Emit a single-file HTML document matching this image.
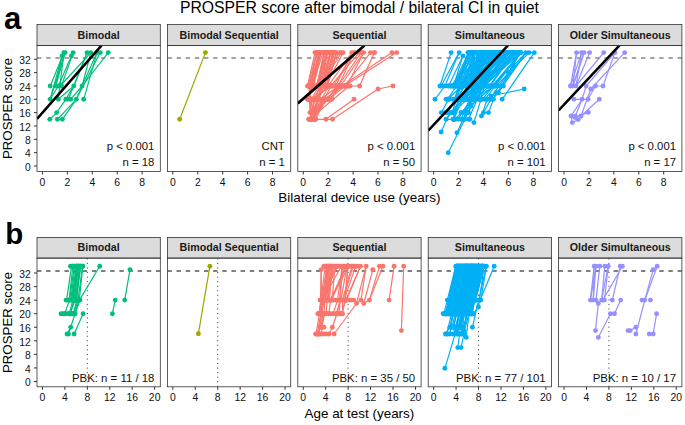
<!DOCTYPE html>
<html><head><meta charset="utf-8"><title>PROSPER score</title>
<style>html,body{margin:0;padding:0;background:#fff}svg{display:block}</style></head>
<body>
<svg width="685" height="425" viewBox="0 0 685 425" font-family='"Liberation Sans", Arial, sans-serif'>
<rect width="685" height="425" fill="#fff"/>
<defs>
<clipPath id="ct0"><rect x="37.00" y="45.4" width="123.3" height="126.10"/></clipPath>
<clipPath id="ct1"><rect x="167.40" y="45.4" width="123.3" height="126.10"/></clipPath>
<clipPath id="ct2"><rect x="297.80" y="45.4" width="123.3" height="126.10"/></clipPath>
<clipPath id="ct3"><rect x="428.20" y="45.4" width="123.3" height="126.10"/></clipPath>
<clipPath id="ct4"><rect x="558.60" y="45.4" width="123.3" height="126.10"/></clipPath>
<clipPath id="cb0"><rect x="37.00" y="258.1" width="123.3" height="128.70"/></clipPath>
<clipPath id="cb1"><rect x="167.40" y="258.1" width="123.3" height="128.70"/></clipPath>
<clipPath id="cb2"><rect x="297.80" y="258.1" width="123.3" height="128.70"/></clipPath>
<clipPath id="cb3"><rect x="428.20" y="258.1" width="123.3" height="128.70"/></clipPath>
<clipPath id="cb4"><rect x="558.60" y="258.1" width="123.3" height="128.70"/></clipPath>
</defs>
<text x="359.4" y="13.4" font-size="15.75" text-anchor="middle" fill="#000">PROSPER score after bimodal / bilateral CI in quiet</text>
<text x="4.0" y="28.6" font-size="31" font-weight="bold" fill="#000">a</text>
<text x="5.3" y="244.4" font-size="29.5" font-weight="bold" fill="#000">b</text>
<rect x="37.00" y="24.5" width="123.3" height="20.90" fill="#dcdcdc" stroke="#333" stroke-width="0.8"/>
<text x="98.65" y="38.55" font-size="10.7" font-weight="bold" text-anchor="middle" fill="#1a1a1a">Bimodal</text>
<g clip-path="url(#ct0)">
<line x1="37.00" x2="160.30" y1="58.00" y2="58.00" stroke="#868686" stroke-width="1.7" stroke-dasharray="4.4 4.75"/>
<g fill="none" stroke="#00BF7D" stroke-width="1.2" stroke-linejoin="round"><polyline points="50.2,99.3 62.0,55.9"/><polyline points="50.2,86.0 63.9,52.6"/><polyline points="55.8,86.0 65.1,52.6"/><polyline points="58.3,99.3 63.9,52.6"/><polyline points="50.2,99.3 65.1,52.6"/><polyline points="58.3,86.0 71.4,55.9"/><polyline points="61.4,86.0 73.2,52.6"/><polyline points="55.8,86.0 62.0,55.9"/><polyline points="61.1,85.0 90.8,52.6"/><polyline points="49.8,119.3 56.7,112.6 65.8,99.3 73.8,86.0 87.1,52.6"/><polyline points="57.4,119.3 76.3,99.3 82.1,86.0 90.8,52.6"/><polyline points="62.4,119.3 76.3,99.3"/><polyline points="68.2,99.3 73.8,86.0 87.1,52.6"/><polyline points="70.7,99.3 82.1,86.0 97.0,52.6"/><polyline points="83.7,99.3 97.0,52.6"/><polyline points="76.3,99.3 100.3,52.6"/><polyline points="82.1,86.0 108.2,52.6"/><polyline points="58.3,99.3 73.8,86.0"/><polyline points="50.2,99.3 58.3,86.0"/><polyline points="65.8,99.3 70.7,99.3"/></g>
<g fill="#00BF7D"><circle cx="49.8" cy="119.3" r="2.45"/><circle cx="50.2" cy="86.0" r="2.45"/><circle cx="50.2" cy="99.3" r="2.45"/><circle cx="55.8" cy="86.0" r="2.45"/><circle cx="56.7" cy="112.6" r="2.45"/><circle cx="57.4" cy="119.3" r="2.45"/><circle cx="58.3" cy="86.0" r="2.45"/><circle cx="58.3" cy="99.3" r="2.45"/><circle cx="61.1" cy="85.0" r="2.45"/><circle cx="61.4" cy="86.0" r="2.45"/><circle cx="62.0" cy="55.9" r="2.45"/><circle cx="62.4" cy="119.3" r="2.45"/><circle cx="63.9" cy="52.6" r="2.45"/><circle cx="65.1" cy="52.6" r="2.45"/><circle cx="65.8" cy="99.3" r="2.45"/><circle cx="68.2" cy="99.3" r="2.45"/><circle cx="70.7" cy="99.3" r="2.45"/><circle cx="71.4" cy="55.9" r="2.45"/><circle cx="73.2" cy="52.6" r="2.45"/><circle cx="73.8" cy="86.0" r="2.45"/><circle cx="76.3" cy="99.3" r="2.45"/><circle cx="82.1" cy="86.0" r="2.45"/><circle cx="83.7" cy="99.3" r="2.45"/><circle cx="87.1" cy="52.6" r="2.45"/><circle cx="90.8" cy="52.6" r="2.45"/><circle cx="97.0" cy="52.6" r="2.45"/><circle cx="100.3" cy="52.6" r="2.45"/><circle cx="108.2" cy="52.6" r="2.45"/></g>
<line x1="37.0" y1="118.9" x2="101.6" y2="45.4" stroke="#000" stroke-width="2.6"/>
</g>
<text x="154.40" y="150" font-size="11.35" text-anchor="end" fill="#111">p &lt; 0.001</text>
<text x="154.40" y="165.7" font-size="11.35" text-anchor="end" fill="#111">n = 18</text>
<rect x="37.00" y="45.4" width="123.3" height="126.10" fill="none" stroke="#333" stroke-width="0.8"/>
<line x1="42.45" x2="42.45" y1="171.5" y2="174.5" stroke="#333" stroke-width="1"/>
<text x="42.45" y="185.60" font-size="10.4" text-anchor="middle" fill="#111">0</text>
<line x1="67.37" x2="67.37" y1="171.5" y2="174.5" stroke="#333" stroke-width="1"/>
<text x="67.37" y="185.60" font-size="10.4" text-anchor="middle" fill="#111">2</text>
<line x1="92.29" x2="92.29" y1="171.5" y2="174.5" stroke="#333" stroke-width="1"/>
<text x="92.29" y="185.60" font-size="10.4" text-anchor="middle" fill="#111">4</text>
<line x1="117.21" x2="117.21" y1="171.5" y2="174.5" stroke="#333" stroke-width="1"/>
<text x="117.21" y="185.60" font-size="10.4" text-anchor="middle" fill="#111">6</text>
<line x1="142.13" x2="142.13" y1="171.5" y2="174.5" stroke="#333" stroke-width="1"/>
<text x="142.13" y="185.60" font-size="10.4" text-anchor="middle" fill="#111">8</text>
<rect x="167.40" y="24.5" width="123.3" height="20.90" fill="#dcdcdc" stroke="#333" stroke-width="0.8"/>
<text x="229.05" y="38.55" font-size="10.7" font-weight="bold" text-anchor="middle" fill="#1a1a1a">Bimodal Sequential</text>
<g clip-path="url(#ct1)">
<line x1="167.40" x2="290.70" y1="58.00" y2="58.00" stroke="#868686" stroke-width="1.7" stroke-dasharray="4.4 4.75"/>
<g fill="none" stroke="#A3A500" stroke-width="1.2" stroke-linejoin="round"><polyline points="179.7,119.3 205.4,52.6"/></g>
<g fill="#A3A500"><circle cx="179.7" cy="119.3" r="2.45"/><circle cx="205.4" cy="52.6" r="2.45"/></g>
</g>
<text x="284.80" y="150" font-size="11.35" text-anchor="end" fill="#111">CNT</text>
<text x="284.80" y="165.7" font-size="11.35" text-anchor="end" fill="#111">n = 1</text>
<rect x="167.40" y="45.4" width="123.3" height="126.10" fill="none" stroke="#333" stroke-width="0.8"/>
<line x1="172.85" x2="172.85" y1="171.5" y2="174.5" stroke="#333" stroke-width="1"/>
<text x="172.85" y="185.60" font-size="10.4" text-anchor="middle" fill="#111">0</text>
<line x1="197.77" x2="197.77" y1="171.5" y2="174.5" stroke="#333" stroke-width="1"/>
<text x="197.77" y="185.60" font-size="10.4" text-anchor="middle" fill="#111">2</text>
<line x1="222.69" x2="222.69" y1="171.5" y2="174.5" stroke="#333" stroke-width="1"/>
<text x="222.69" y="185.60" font-size="10.4" text-anchor="middle" fill="#111">4</text>
<line x1="247.61" x2="247.61" y1="171.5" y2="174.5" stroke="#333" stroke-width="1"/>
<text x="247.61" y="185.60" font-size="10.4" text-anchor="middle" fill="#111">6</text>
<line x1="272.53" x2="272.53" y1="171.5" y2="174.5" stroke="#333" stroke-width="1"/>
<text x="272.53" y="185.60" font-size="10.4" text-anchor="middle" fill="#111">8</text>
<rect x="297.80" y="24.5" width="123.3" height="20.90" fill="#dcdcdc" stroke="#333" stroke-width="0.8"/>
<text x="359.45" y="38.55" font-size="10.7" font-weight="bold" text-anchor="middle" fill="#1a1a1a">Sequential</text>
<g clip-path="url(#ct2)">
<line x1="297.80" x2="421.10" y1="58.00" y2="58.00" stroke="#868686" stroke-width="1.7" stroke-dasharray="4.4 4.75"/>
<g fill="none" stroke="#F8766D" stroke-width="1.2" stroke-linejoin="round"><polyline points="316.6,86.0 325.7,52.6"/><polyline points="326.0,86.0 334.5,52.6"/><polyline points="317.7,86.0 326.9,52.6"/><polyline points="311.2,86.0 320.0,52.6"/><polyline points="320.1,86.0 330.7,52.6"/><polyline points="309.4,86.0 316.9,52.6"/><polyline points="309.3,86.0 320.0,52.6"/><polyline points="321.4,86.0 327.3,52.6"/><polyline points="327.2,86.0 336.4,52.6"/><polyline points="320.6,86.0 330.0,52.6"/><polyline points="310.6,86.0 316.3,52.6"/><polyline points="318.1,86.0 324.1,52.6"/><polyline points="311.3,86.0 318.4,52.6"/><polyline points="308.1,86.0 316.6,52.6"/><polyline points="316.3,86.0 327.2,52.6"/><polyline points="317.9,86.0 327.5,52.6"/><polyline points="317.5,86.0 327.2,52.6"/><polyline points="316.7,86.0 324.0,52.6"/><polyline points="327.5,86.0 336.4,52.6"/><polyline points="324.3,86.0 334.4,52.6"/><polyline points="313.8,86.0 320.8,52.6"/><polyline points="313.3,86.0 319.3,52.6"/><polyline points="322.9,86.0 331.0,52.6"/><polyline points="324.5,86.0 332.5,52.6"/><polyline points="326.7,86.0 336.4,52.6"/><polyline points="307.5,86.0 315.0,52.6"/><polyline points="317.2,99.3 330.7,52.6"/><polyline points="318.0,99.3 330.9,52.6"/><polyline points="308.3,99.3 322.9,52.6"/><polyline points="315.8,99.3 327.8,52.6"/><polyline points="308.4,99.3 320.9,52.6"/><polyline points="317.8,99.3 333.5,52.6"/><polyline points="308.8,99.3 320.6,52.6"/><polyline points="308.6,99.3 319.0,52.6"/><polyline points="315.7,86.0 339.4,52.6"/><polyline points="320.7,86.0 341.3,52.6"/><polyline points="325.7,86.0 343.1,52.6"/><polyline points="328.2,86.0 351.8,52.6"/><polyline points="333.2,86.0 354.3,52.6"/><polyline points="330.7,86.0 359.3,52.6"/><polyline points="338.1,86.0 361.2,52.6"/><polyline points="340.6,86.0 363.7,52.6"/><polyline points="344.4,86.0 370.5,52.6"/><polyline points="359.6,86.0 374.3,52.6"/><polyline points="341.9,86.0 392.0,52.6"/><polyline points="344.4,86.0 396.7,52.6"/><polyline points="335.6,86.0 351.8,52.6"/><polyline points="346.9,86.0 363.7,52.6"/><polyline points="331.9,99.3 354.3,52.6"/><polyline points="314.3,119.3 313.2,99.3"/><polyline points="312.6,119.3 318.7,99.3"/><polyline points="310.1,119.3 324.6,99.3"/><polyline points="309.6,119.3 322.8,99.3"/><polyline points="309.5,119.3 318.2,99.3"/><polyline points="310.2,119.3 315.1,99.3"/><polyline points="315.5,119.3 326.1,99.3"/><polyline points="310.9,119.3 327.8,99.3"/><polyline points="310.2,119.3 317.6,99.3"/><polyline points="314.7,119.3 322.8,99.3"/><polyline points="309.4,119.3 349.1,86.0"/><polyline points="310.2,119.3 329.0,86.0"/><polyline points="314.1,119.3 331.0,86.0"/><polyline points="310.8,119.3 324.0,86.0"/><polyline points="309.4,119.3 337.9,86.0"/><polyline points="310.4,119.3 338.4,86.0"/><polyline points="315.9,99.3 327.7,86.0"/><polyline points="329.2,99.3 341.5,86.0"/><polyline points="320.5,99.3 338.5,86.0"/><polyline points="311.6,99.3 318.9,86.0"/><polyline points="328.1,99.3 345.3,86.0"/><polyline points="313.1,99.3 321.0,86.0"/><polyline points="324.3,99.3 343.3,86.0"/><polyline points="311.9,99.3 331.1,86.0"/><polyline points="313.9,116.0 311.0,99.3"/><polyline points="310.0,112.6 309.4,86.0"/><polyline points="310.8,112.6 309.9,99.3"/><polyline points="314.1,116.0 308.5,86.0"/><polyline points="312.3,116.0 309.8,99.3"/><polyline points="315.0,52.6 317.1,52.6 319.2,52.6 321.4,52.6 323.5,52.6 325.7,52.6 327.8,52.6 330.0,52.6 332.1,52.6 334.3,52.6 336.4,52.6"/><polyline points="339.4,52.6 341.3,52.6 343.1,52.6"/><polyline points="351.8,52.6 354.6,52.6"/><polyline points="359.3,52.6 361.5,52.6 363.7,52.6"/><polyline points="370.5,52.6 374.5,52.6"/><polyline points="307.5,86.0 310.0,86.0 312.5,86.0 315.0,86.0 317.5,86.0 320.0,86.0 322.5,86.0 325.0,86.0 327.5,86.0 330.0,86.0 332.6,86.0 335.1,86.0 337.6,86.0 340.1,86.0 342.6,86.0 345.1,86.0 347.6,86.0 350.1,86.0"/><polyline points="307.5,99.3 310.0,99.3 312.5,99.3 315.0,99.3 317.6,99.3 320.1,99.3 322.6,99.3 325.1,99.3 327.6,99.3 330.2,99.3"/><polyline points="308.7,119.3 311.1,119.3 313.4,119.3 315.7,119.3"/><polyline points="350.1,86.0 359.6,86.0"/><polyline points="332.5,119.3 378.0,89.0 393.0,86.0"/><polyline points="325.9,119.3 354.0,99.3"/><polyline points="315.7,119.3 325.9,119.3 332.5,119.3"/></g>
<g fill="#F8766D"><circle cx="307.5" cy="86.0" r="2.45"/><circle cx="307.5" cy="99.3" r="2.45"/><circle cx="308.1" cy="86.0" r="2.45"/><circle cx="308.3" cy="99.3" r="2.45"/><circle cx="308.4" cy="99.3" r="2.45"/><circle cx="308.5" cy="86.0" r="2.45"/><circle cx="308.6" cy="99.3" r="2.45"/><circle cx="308.7" cy="119.3" r="2.45"/><circle cx="308.8" cy="99.3" r="2.45"/><circle cx="309.3" cy="86.0" r="2.45"/><circle cx="309.4" cy="86.0" r="2.45"/><circle cx="309.4" cy="119.3" r="2.45"/><circle cx="309.5" cy="119.3" r="2.45"/><circle cx="309.6" cy="119.3" r="2.45"/><circle cx="309.8" cy="99.3" r="2.45"/><circle cx="309.9" cy="99.3" r="2.45"/><circle cx="310.0" cy="86.0" r="2.45"/><circle cx="310.0" cy="99.3" r="2.45"/><circle cx="310.0" cy="112.6" r="2.45"/><circle cx="310.1" cy="119.3" r="2.45"/><circle cx="310.2" cy="119.3" r="2.45"/><circle cx="310.4" cy="119.3" r="2.45"/><circle cx="310.6" cy="86.0" r="2.45"/><circle cx="310.8" cy="112.6" r="2.45"/><circle cx="310.8" cy="119.3" r="2.45"/><circle cx="310.9" cy="119.3" r="2.45"/><circle cx="311.0" cy="99.3" r="2.45"/><circle cx="311.1" cy="119.3" r="2.45"/><circle cx="311.2" cy="86.0" r="2.45"/><circle cx="311.3" cy="86.0" r="2.45"/><circle cx="311.6" cy="99.3" r="2.45"/><circle cx="311.9" cy="99.3" r="2.45"/><circle cx="312.3" cy="116.0" r="2.45"/><circle cx="312.5" cy="86.0" r="2.45"/><circle cx="312.5" cy="99.3" r="2.45"/><circle cx="312.6" cy="119.3" r="2.45"/><circle cx="313.1" cy="99.3" r="2.45"/><circle cx="313.2" cy="99.3" r="2.45"/><circle cx="313.3" cy="86.0" r="2.45"/><circle cx="313.4" cy="119.3" r="2.45"/><circle cx="313.8" cy="86.0" r="2.45"/><circle cx="313.9" cy="116.0" r="2.45"/><circle cx="314.1" cy="116.0" r="2.45"/><circle cx="314.1" cy="119.3" r="2.45"/><circle cx="314.3" cy="119.3" r="2.45"/><circle cx="314.7" cy="119.3" r="2.45"/><circle cx="315.0" cy="52.6" r="2.45"/><circle cx="315.0" cy="86.0" r="2.45"/><circle cx="315.0" cy="99.3" r="2.45"/><circle cx="315.1" cy="99.3" r="2.45"/><circle cx="315.5" cy="119.3" r="2.45"/><circle cx="315.7" cy="86.0" r="2.45"/><circle cx="315.7" cy="119.3" r="2.45"/><circle cx="315.8" cy="99.3" r="2.45"/><circle cx="315.9" cy="99.3" r="2.45"/><circle cx="316.3" cy="52.6" r="2.45"/><circle cx="316.3" cy="86.0" r="2.45"/><circle cx="316.6" cy="52.6" r="2.45"/><circle cx="316.6" cy="86.0" r="2.45"/><circle cx="316.7" cy="86.0" r="2.45"/><circle cx="316.9" cy="52.6" r="2.45"/><circle cx="317.1" cy="52.6" r="2.45"/><circle cx="317.2" cy="99.3" r="2.45"/><circle cx="317.5" cy="86.0" r="2.45"/><circle cx="317.6" cy="99.3" r="2.45"/><circle cx="317.7" cy="86.0" r="2.45"/><circle cx="317.8" cy="99.3" r="2.45"/><circle cx="317.9" cy="86.0" r="2.45"/><circle cx="318.0" cy="99.3" r="2.45"/><circle cx="318.1" cy="86.0" r="2.45"/><circle cx="318.2" cy="99.3" r="2.45"/><circle cx="318.4" cy="52.6" r="2.45"/><circle cx="318.7" cy="99.3" r="2.45"/><circle cx="318.9" cy="86.0" r="2.45"/><circle cx="319.0" cy="52.6" r="2.45"/><circle cx="319.2" cy="52.6" r="2.45"/><circle cx="319.3" cy="52.6" r="2.45"/><circle cx="320.0" cy="52.6" r="2.45"/><circle cx="320.0" cy="86.0" r="2.45"/><circle cx="320.1" cy="86.0" r="2.45"/><circle cx="320.1" cy="99.3" r="2.45"/><circle cx="320.5" cy="99.3" r="2.45"/><circle cx="320.6" cy="52.6" r="2.45"/><circle cx="320.6" cy="86.0" r="2.45"/><circle cx="320.7" cy="86.0" r="2.45"/><circle cx="320.8" cy="52.6" r="2.45"/><circle cx="320.9" cy="52.6" r="2.45"/><circle cx="321.0" cy="86.0" r="2.45"/><circle cx="321.4" cy="52.6" r="2.45"/><circle cx="321.4" cy="86.0" r="2.45"/><circle cx="322.5" cy="86.0" r="2.45"/><circle cx="322.6" cy="99.3" r="2.45"/><circle cx="322.8" cy="99.3" r="2.45"/><circle cx="322.9" cy="52.6" r="2.45"/><circle cx="322.9" cy="86.0" r="2.45"/><circle cx="323.5" cy="52.6" r="2.45"/><circle cx="324.0" cy="52.6" r="2.45"/><circle cx="324.0" cy="86.0" r="2.45"/><circle cx="324.1" cy="52.6" r="2.45"/><circle cx="324.3" cy="86.0" r="2.45"/><circle cx="324.3" cy="99.3" r="2.45"/><circle cx="324.5" cy="86.0" r="2.45"/><circle cx="324.6" cy="99.3" r="2.45"/><circle cx="325.0" cy="86.0" r="2.45"/><circle cx="325.1" cy="99.3" r="2.45"/><circle cx="325.7" cy="52.6" r="2.45"/><circle cx="325.7" cy="86.0" r="2.45"/><circle cx="325.9" cy="119.3" r="2.45"/><circle cx="326.0" cy="86.0" r="2.45"/><circle cx="326.1" cy="99.3" r="2.45"/><circle cx="326.7" cy="86.0" r="2.45"/><circle cx="326.9" cy="52.6" r="2.45"/><circle cx="327.2" cy="52.6" r="2.45"/><circle cx="327.2" cy="86.0" r="2.45"/><circle cx="327.3" cy="52.6" r="2.45"/><circle cx="327.5" cy="52.6" r="2.45"/><circle cx="327.5" cy="86.0" r="2.45"/><circle cx="327.6" cy="99.3" r="2.45"/><circle cx="327.7" cy="86.0" r="2.45"/><circle cx="327.8" cy="52.6" r="2.45"/><circle cx="327.8" cy="99.3" r="2.45"/><circle cx="328.1" cy="99.3" r="2.45"/><circle cx="328.2" cy="86.0" r="2.45"/><circle cx="329.0" cy="86.0" r="2.45"/><circle cx="329.2" cy="99.3" r="2.45"/><circle cx="330.0" cy="52.6" r="2.45"/><circle cx="330.0" cy="86.0" r="2.45"/><circle cx="330.2" cy="99.3" r="2.45"/><circle cx="330.7" cy="52.6" r="2.45"/><circle cx="330.7" cy="86.0" r="2.45"/><circle cx="330.9" cy="52.6" r="2.45"/><circle cx="331.0" cy="52.6" r="2.45"/><circle cx="331.0" cy="86.0" r="2.45"/><circle cx="331.1" cy="86.0" r="2.45"/><circle cx="331.9" cy="99.3" r="2.45"/><circle cx="332.1" cy="52.6" r="2.45"/><circle cx="332.5" cy="52.6" r="2.45"/><circle cx="332.5" cy="119.3" r="2.45"/><circle cx="332.6" cy="86.0" r="2.45"/><circle cx="333.2" cy="86.0" r="2.45"/><circle cx="333.5" cy="52.6" r="2.45"/><circle cx="334.3" cy="52.6" r="2.45"/><circle cx="334.4" cy="52.6" r="2.45"/><circle cx="334.5" cy="52.6" r="2.45"/><circle cx="335.1" cy="86.0" r="2.45"/><circle cx="335.6" cy="86.0" r="2.45"/><circle cx="336.4" cy="52.6" r="2.45"/><circle cx="337.6" cy="86.0" r="2.45"/><circle cx="337.9" cy="86.0" r="2.45"/><circle cx="338.1" cy="86.0" r="2.45"/><circle cx="338.4" cy="86.0" r="2.45"/><circle cx="338.5" cy="86.0" r="2.45"/><circle cx="339.4" cy="52.6" r="2.45"/><circle cx="340.1" cy="86.0" r="2.45"/><circle cx="340.6" cy="86.0" r="2.45"/><circle cx="341.3" cy="52.6" r="2.45"/><circle cx="341.5" cy="86.0" r="2.45"/><circle cx="341.9" cy="86.0" r="2.45"/><circle cx="342.6" cy="86.0" r="2.45"/><circle cx="343.1" cy="52.6" r="2.45"/><circle cx="343.3" cy="86.0" r="2.45"/><circle cx="344.4" cy="86.0" r="2.45"/><circle cx="345.1" cy="86.0" r="2.45"/><circle cx="345.3" cy="86.0" r="2.45"/><circle cx="346.9" cy="86.0" r="2.45"/><circle cx="347.6" cy="86.0" r="2.45"/><circle cx="349.1" cy="86.0" r="2.45"/><circle cx="350.1" cy="86.0" r="2.45"/><circle cx="351.8" cy="52.6" r="2.45"/><circle cx="354.0" cy="99.3" r="2.45"/><circle cx="354.3" cy="52.6" r="2.45"/><circle cx="354.6" cy="52.6" r="2.45"/><circle cx="359.3" cy="52.6" r="2.45"/><circle cx="359.6" cy="86.0" r="2.45"/><circle cx="361.2" cy="52.6" r="2.45"/><circle cx="361.5" cy="52.6" r="2.45"/><circle cx="363.7" cy="52.6" r="2.45"/><circle cx="370.5" cy="52.6" r="2.45"/><circle cx="374.3" cy="52.6" r="2.45"/><circle cx="374.5" cy="52.6" r="2.45"/><circle cx="378.0" cy="89.0" r="2.45"/><circle cx="392.0" cy="52.6" r="2.45"/><circle cx="393.0" cy="86.0" r="2.45"/><circle cx="396.7" cy="52.6" r="2.45"/></g>
<line x1="297.8" y1="103.4" x2="364.5" y2="45.4" stroke="#000" stroke-width="2.6"/>
</g>
<text x="415.20" y="150" font-size="11.35" text-anchor="end" fill="#111">p &lt; 0.001</text>
<text x="415.20" y="165.7" font-size="11.35" text-anchor="end" fill="#111">n = 50</text>
<rect x="297.80" y="45.4" width="123.3" height="126.10" fill="none" stroke="#333" stroke-width="0.8"/>
<line x1="303.25" x2="303.25" y1="171.5" y2="174.5" stroke="#333" stroke-width="1"/>
<text x="303.25" y="185.60" font-size="10.4" text-anchor="middle" fill="#111">0</text>
<line x1="328.17" x2="328.17" y1="171.5" y2="174.5" stroke="#333" stroke-width="1"/>
<text x="328.17" y="185.60" font-size="10.4" text-anchor="middle" fill="#111">2</text>
<line x1="353.09" x2="353.09" y1="171.5" y2="174.5" stroke="#333" stroke-width="1"/>
<text x="353.09" y="185.60" font-size="10.4" text-anchor="middle" fill="#111">4</text>
<line x1="378.01" x2="378.01" y1="171.5" y2="174.5" stroke="#333" stroke-width="1"/>
<text x="378.01" y="185.60" font-size="10.4" text-anchor="middle" fill="#111">6</text>
<line x1="402.93" x2="402.93" y1="171.5" y2="174.5" stroke="#333" stroke-width="1"/>
<text x="402.93" y="185.60" font-size="10.4" text-anchor="middle" fill="#111">8</text>
<rect x="428.20" y="24.5" width="123.3" height="20.90" fill="#dcdcdc" stroke="#333" stroke-width="0.8"/>
<text x="489.85" y="38.55" font-size="10.7" font-weight="bold" text-anchor="middle" fill="#1a1a1a">Simultaneous</text>
<g clip-path="url(#ct3)">
<line x1="428.20" x2="551.50" y1="58.00" y2="58.00" stroke="#868686" stroke-width="1.7" stroke-dasharray="4.4 4.75"/>
<g fill="none" stroke="#00B0F6" stroke-width="1.2" stroke-linejoin="round"><polyline points="471.3,99.3 517.5,52.6"/><polyline points="480.2,99.3 484.6,86.0 490.3,52.6"/><polyline points="478.8,99.3 481.3,86.0 492.9,52.6"/><polyline points="465.7,99.3 467.5,86.0 475.1,52.6"/><polyline points="464.2,119.3 487.4,52.6"/><polyline points="469.5,86.0 480.0,52.6"/><polyline points="481.7,86.0 494.9,52.6"/><polyline points="492.2,86.0 520.9,52.6"/><polyline points="489.3,86.0 513.6,52.6"/><polyline points="456.2,99.3 479.8,86.0 509.3,52.6"/><polyline points="451.9,112.6 456.7,99.3 485.0,52.6"/><polyline points="478.4,86.0 504.4,52.6"/><polyline points="470.1,99.3 472.4,86.0 481.9,52.6"/><polyline points="455.7,99.3 461.3,86.0 486.6,52.6"/><polyline points="468.6,119.3 482.8,86.0 505.1,52.6"/><polyline points="447.3,99.3 456.6,86.0 468.5,52.6"/><polyline points="475.3,86.0 512.8,52.6"/><polyline points="454.3,119.3 462.3,86.0 490.6,52.6"/><polyline points="473.6,99.3 494.2,86.0 520.9,52.6"/><polyline points="460.4,86.0 487.2,52.6"/><polyline points="454.2,119.3 493.9,86.0 520.9,52.6"/><polyline points="477.5,86.0 504.8,52.6"/><polyline points="458.8,99.3 490.4,52.6"/><polyline points="468.9,86.0 506.2,52.6"/><polyline points="474.6,86.0 492.4,52.6"/><polyline points="470.8,86.0 481.9,52.6"/><polyline points="461.2,119.3 469.6,99.3 520.9,52.6"/><polyline points="482.3,99.3 520.7,52.6"/><polyline points="463.3,86.0 474.5,52.6"/><polyline points="451.8,112.6 490.5,52.6"/><polyline points="468.0,112.6 483.8,86.0 506.6,52.6"/><polyline points="462.3,86.0 473.5,52.6"/><polyline points="493.4,86.0 520.9,52.6"/><polyline points="463.6,99.3 468.2,86.0 488.3,52.6"/><polyline points="465.4,112.6 498.5,52.6"/><polyline points="461.3,112.6 512.7,52.6"/><polyline points="473.0,86.0 488.7,52.6"/><polyline points="472.4,99.3 490.4,86.0 513.7,52.6"/><polyline points="465.9,99.3 467.6,86.0 475.2,52.6"/><polyline points="462.6,99.3 480.7,86.0 509.8,52.6"/><polyline points="470.5,86.0 501.6,52.6"/><polyline points="453.2,112.6 515.4,52.6"/><polyline points="485.0,99.3 495.1,86.0 520.9,52.6"/><polyline points="479.5,86.0 517.3,52.6"/><polyline points="469.5,99.3 512.1,52.6"/><polyline points="476.5,86.0 502.3,52.6"/><polyline points="461.6,99.3 499.7,52.6"/><polyline points="470.5,99.3 473.0,86.0 480.6,52.6"/><polyline points="456.6,99.3 460.8,86.0 497.7,52.6"/><polyline points="456.8,99.3 459.2,86.0 468.5,52.6"/><polyline points="455.4,86.0 468.5,52.6"/><polyline points="460.5,99.3 467.1,86.0 498.1,52.6"/><polyline points="446.1,119.3 474.5,86.0 485.9,52.6"/><polyline points="465.0,99.3 475.7,86.0 519.1,52.6"/><polyline points="465.8,86.0 504.0,52.6"/><polyline points="460.8,86.0 471.3,52.6"/><polyline points="467.5,86.0 491.9,52.6"/><polyline points="454.8,99.3 459.1,86.0 481.6,52.6"/><polyline points="450.5,86.0 484.4,52.6"/><polyline points="460.6,99.3 484.7,52.6"/><polyline points="459.2,99.3 471.5,86.0 509.2,52.6"/><polyline points="457.8,119.3 502.5,52.6"/><polyline points="480.6,86.0 492.2,52.6"/><polyline points="471.3,99.3 473.4,86.0 494.2,52.6"/><polyline points="453.4,119.3 462.7,99.3 520.9,52.6"/><polyline points="462.1,99.3 484.7,52.6"/><polyline points="445.2,112.6 470.6,86.0 488.6,52.6"/><polyline points="458.1,86.0 469.5,52.6"/><polyline points="453.1,119.3 458.2,99.3 506.4,52.6"/><polyline points="458.6,86.0 488.6,52.6"/><polyline points="470.9,99.3 474.3,86.0 480.9,52.6"/><polyline points="448.0,112.6 454.6,99.3 468.5,52.6"/><polyline points="447.9,99.3 461.5,86.0 493.3,52.6"/><polyline points="467.5,99.3 498.9,52.6"/><polyline points="462.0,86.0 496.8,52.6"/><polyline points="459.1,86.0 493.2,52.6"/><polyline points="479.5,86.0 509.1,52.6"/><polyline points="458.7,86.0 491.2,52.6"/><polyline points="473.8,86.0 488.0,52.6"/><polyline points="463.0,86.0 482.3,52.6"/><polyline points="463.5,86.0 480.1,52.6"/><polyline points="454.9,86.0 474.7,52.6"/><polyline points="471.3,86.0 484.6,52.6"/><polyline points="456.8,86.0 479.5,52.6"/><polyline points="470.8,86.0 491.6,52.6"/><polyline points="451.7,86.0 473.2,52.6"/><polyline points="475.5,86.0 500.4,52.6"/><polyline points="468.6,86.0 481.6,52.6"/><polyline points="472.1,86.0 487.3,52.6"/><polyline points="467.2,86.0 491.5,52.6"/><polyline points="468.8,86.0 483.0,52.6"/><polyline points="458.4,86.0 482.3,52.6"/><polyline points="454.8,86.0 474.9,52.6"/><polyline points="461.4,86.0 475.9,52.6"/><polyline points="466.6,86.0 479.6,52.6"/><polyline points="453.8,86.0 471.0,52.6"/><polyline points="452.9,86.0 468.5,52.6"/><polyline points="465.4,86.0 487.1,52.6"/><polyline points="473.0,86.0 487.1,52.6"/><polyline points="461.9,86.0 478.2,52.6"/><polyline points="467.9,52.6 470.0,52.6 472.2,52.6 474.3,52.6 476.4,52.6 478.5,52.6 480.6,52.6 482.7,52.6 484.9,52.6 487.0,52.6 489.1,52.6 491.2,52.6 493.3,52.6 495.5,52.6 497.6,52.6 499.7,52.6 501.8,52.6 503.9,52.6 506.0,52.6 508.2,52.6 510.3,52.6 512.4,52.6 514.5,52.6 516.6,52.6 518.8,52.6 520.9,52.6"/><polyline points="444.9,86.0 448.0,86.0 451.1,86.0 454.2,86.0 457.3,86.0 460.4,86.0 463.6,86.0 466.7,86.0 469.8,86.0 472.9,86.0 476.0,86.0 479.1,86.0 482.2,86.0 485.4,86.0 488.5,86.0 491.6,86.0 494.7,86.0 497.8,86.0 500.9,86.0"/><polyline points="446.1,99.3 449.7,99.3 453.3,99.3 456.9,99.3 460.5,99.3 464.1,99.3 467.7,99.3 471.3,99.3 474.9,99.3 478.5,99.3"/><polyline points="439.9,86.0 451.1,52.6"/><polyline points="441.1,86.0 459.2,52.6"/><polyline points="444.9,86.0 459.2,52.6"/><polyline points="448.6,86.0 462.9,55.9"/><polyline points="453.6,86.0 462.9,55.9"/><polyline points="435.0,99.3 444.9,86.0"/><polyline points="441.3,112.6 448.6,99.3"/><polyline points="441.1,132.0 449.8,112.6"/><polyline points="457.0,132.7 466.0,112.6 471.0,99.3"/><polyline points="448.2,152.7 464.8,119.3 471.0,106.0 476.0,86.0"/><polyline points="473.9,122.6 481.0,99.3"/><polyline points="481.4,116.0 487.2,99.3"/><polyline points="488.5,112.6 483.5,112.6 491.0,99.3"/><polyline points="488.5,112.6 496.0,92.6 503.4,86.0"/><polyline points="502.2,99.3 534.3,52.6"/><polyline points="501.4,86.0 520.2,52.6"/><polyline points="501.4,86.0 525.9,52.6"/><polyline points="496.0,86.0 529.1,52.6"/><polyline points="498.4,92.6 525.9,52.6"/><polyline points="491.0,96.0 524.2,89.0"/><polyline points="489.7,99.3 508.4,72.6 520.2,52.6"/><polyline points="493.5,99.3 513.4,66.0 525.9,52.6"/><polyline points="446.1,119.3 454.8,119.3"/><polyline points="462.3,119.3 469.8,119.3"/><polyline points="447.4,112.6 454.8,112.6"/><polyline points="461.1,112.6 468.5,112.6"/><polyline points="520.2,52.6 534.3,52.6"/></g>
<g fill="#00B0F6"><circle cx="435.0" cy="99.3" r="2.45"/><circle cx="439.9" cy="86.0" r="2.45"/><circle cx="441.1" cy="86.0" r="2.45"/><circle cx="441.1" cy="132.0" r="2.45"/><circle cx="441.3" cy="112.6" r="2.45"/><circle cx="444.9" cy="86.0" r="2.45"/><circle cx="445.2" cy="112.6" r="2.45"/><circle cx="446.1" cy="99.3" r="2.45"/><circle cx="446.1" cy="119.3" r="2.45"/><circle cx="447.3" cy="99.3" r="2.45"/><circle cx="447.4" cy="112.6" r="2.45"/><circle cx="447.9" cy="99.3" r="2.45"/><circle cx="448.0" cy="86.0" r="2.45"/><circle cx="448.0" cy="112.6" r="2.45"/><circle cx="448.2" cy="152.7" r="2.45"/><circle cx="448.6" cy="86.0" r="2.45"/><circle cx="448.6" cy="99.3" r="2.45"/><circle cx="449.7" cy="99.3" r="2.45"/><circle cx="449.8" cy="112.6" r="2.45"/><circle cx="450.5" cy="86.0" r="2.45"/><circle cx="451.1" cy="52.6" r="2.45"/><circle cx="451.1" cy="86.0" r="2.45"/><circle cx="451.7" cy="86.0" r="2.45"/><circle cx="451.8" cy="112.6" r="2.45"/><circle cx="451.9" cy="112.6" r="2.45"/><circle cx="452.9" cy="86.0" r="2.45"/><circle cx="453.1" cy="119.3" r="2.45"/><circle cx="453.2" cy="112.6" r="2.45"/><circle cx="453.3" cy="99.3" r="2.45"/><circle cx="453.4" cy="119.3" r="2.45"/><circle cx="453.6" cy="86.0" r="2.45"/><circle cx="453.8" cy="86.0" r="2.45"/><circle cx="454.2" cy="86.0" r="2.45"/><circle cx="454.2" cy="119.3" r="2.45"/><circle cx="454.3" cy="119.3" r="2.45"/><circle cx="454.6" cy="99.3" r="2.45"/><circle cx="454.8" cy="86.0" r="2.45"/><circle cx="454.8" cy="99.3" r="2.45"/><circle cx="454.8" cy="112.6" r="2.45"/><circle cx="454.8" cy="119.3" r="2.45"/><circle cx="454.9" cy="86.0" r="2.45"/><circle cx="455.4" cy="86.0" r="2.45"/><circle cx="455.7" cy="99.3" r="2.45"/><circle cx="456.2" cy="99.3" r="2.45"/><circle cx="456.6" cy="86.0" r="2.45"/><circle cx="456.6" cy="99.3" r="2.45"/><circle cx="456.7" cy="99.3" r="2.45"/><circle cx="456.8" cy="86.0" r="2.45"/><circle cx="456.8" cy="99.3" r="2.45"/><circle cx="456.9" cy="99.3" r="2.45"/><circle cx="457.0" cy="132.7" r="2.45"/><circle cx="457.3" cy="86.0" r="2.45"/><circle cx="457.8" cy="119.3" r="2.45"/><circle cx="458.1" cy="86.0" r="2.45"/><circle cx="458.2" cy="99.3" r="2.45"/><circle cx="458.4" cy="86.0" r="2.45"/><circle cx="458.6" cy="86.0" r="2.45"/><circle cx="458.7" cy="86.0" r="2.45"/><circle cx="458.8" cy="99.3" r="2.45"/><circle cx="459.1" cy="86.0" r="2.45"/><circle cx="459.2" cy="52.6" r="2.45"/><circle cx="459.2" cy="86.0" r="2.45"/><circle cx="459.2" cy="99.3" r="2.45"/><circle cx="460.4" cy="86.0" r="2.45"/><circle cx="460.5" cy="99.3" r="2.45"/><circle cx="460.6" cy="99.3" r="2.45"/><circle cx="460.8" cy="86.0" r="2.45"/><circle cx="461.1" cy="112.6" r="2.45"/><circle cx="461.2" cy="119.3" r="2.45"/><circle cx="461.3" cy="86.0" r="2.45"/><circle cx="461.3" cy="112.6" r="2.45"/><circle cx="461.4" cy="86.0" r="2.45"/><circle cx="461.5" cy="86.0" r="2.45"/><circle cx="461.6" cy="99.3" r="2.45"/><circle cx="461.9" cy="86.0" r="2.45"/><circle cx="462.0" cy="86.0" r="2.45"/><circle cx="462.1" cy="99.3" r="2.45"/><circle cx="462.3" cy="86.0" r="2.45"/><circle cx="462.3" cy="119.3" r="2.45"/><circle cx="462.6" cy="99.3" r="2.45"/><circle cx="462.7" cy="99.3" r="2.45"/><circle cx="462.9" cy="55.9" r="2.45"/><circle cx="463.0" cy="86.0" r="2.45"/><circle cx="463.3" cy="86.0" r="2.45"/><circle cx="463.5" cy="86.0" r="2.45"/><circle cx="463.6" cy="86.0" r="2.45"/><circle cx="463.6" cy="99.3" r="2.45"/><circle cx="464.1" cy="99.3" r="2.45"/><circle cx="464.2" cy="119.3" r="2.45"/><circle cx="464.8" cy="119.3" r="2.45"/><circle cx="465.0" cy="99.3" r="2.45"/><circle cx="465.4" cy="86.0" r="2.45"/><circle cx="465.4" cy="112.6" r="2.45"/><circle cx="465.7" cy="99.3" r="2.45"/><circle cx="465.8" cy="86.0" r="2.45"/><circle cx="465.9" cy="99.3" r="2.45"/><circle cx="466.0" cy="112.6" r="2.45"/><circle cx="466.6" cy="86.0" r="2.45"/><circle cx="466.7" cy="86.0" r="2.45"/><circle cx="467.1" cy="86.0" r="2.45"/><circle cx="467.2" cy="86.0" r="2.45"/><circle cx="467.5" cy="86.0" r="2.45"/><circle cx="467.5" cy="99.3" r="2.45"/><circle cx="467.6" cy="86.0" r="2.45"/><circle cx="467.7" cy="99.3" r="2.45"/><circle cx="467.9" cy="52.6" r="2.45"/><circle cx="468.0" cy="112.6" r="2.45"/><circle cx="468.2" cy="86.0" r="2.45"/><circle cx="468.5" cy="52.6" r="2.45"/><circle cx="468.5" cy="112.6" r="2.45"/><circle cx="468.6" cy="86.0" r="2.45"/><circle cx="468.6" cy="119.3" r="2.45"/><circle cx="468.8" cy="86.0" r="2.45"/><circle cx="468.9" cy="86.0" r="2.45"/><circle cx="469.5" cy="52.6" r="2.45"/><circle cx="469.5" cy="86.0" r="2.45"/><circle cx="469.5" cy="99.3" r="2.45"/><circle cx="469.6" cy="99.3" r="2.45"/><circle cx="469.8" cy="86.0" r="2.45"/><circle cx="469.8" cy="119.3" r="2.45"/><circle cx="470.0" cy="52.6" r="2.45"/><circle cx="470.1" cy="99.3" r="2.45"/><circle cx="470.5" cy="86.0" r="2.45"/><circle cx="470.5" cy="99.3" r="2.45"/><circle cx="470.6" cy="86.0" r="2.45"/><circle cx="470.8" cy="86.0" r="2.45"/><circle cx="470.9" cy="99.3" r="2.45"/><circle cx="471.0" cy="52.6" r="2.45"/><circle cx="471.0" cy="99.3" r="2.45"/><circle cx="471.0" cy="106.0" r="2.45"/><circle cx="471.3" cy="52.6" r="2.45"/><circle cx="471.3" cy="86.0" r="2.45"/><circle cx="471.3" cy="99.3" r="2.45"/><circle cx="471.5" cy="86.0" r="2.45"/><circle cx="472.1" cy="86.0" r="2.45"/><circle cx="472.2" cy="52.6" r="2.45"/><circle cx="472.4" cy="86.0" r="2.45"/><circle cx="472.4" cy="99.3" r="2.45"/><circle cx="472.9" cy="86.0" r="2.45"/><circle cx="473.0" cy="86.0" r="2.45"/><circle cx="473.2" cy="52.6" r="2.45"/><circle cx="473.4" cy="86.0" r="2.45"/><circle cx="473.5" cy="52.6" r="2.45"/><circle cx="473.6" cy="99.3" r="2.45"/><circle cx="473.8" cy="86.0" r="2.45"/><circle cx="473.9" cy="122.6" r="2.45"/><circle cx="474.3" cy="52.6" r="2.45"/><circle cx="474.3" cy="86.0" r="2.45"/><circle cx="474.5" cy="52.6" r="2.45"/><circle cx="474.5" cy="86.0" r="2.45"/><circle cx="474.6" cy="86.0" r="2.45"/><circle cx="474.7" cy="52.6" r="2.45"/><circle cx="474.9" cy="52.6" r="2.45"/><circle cx="474.9" cy="99.3" r="2.45"/><circle cx="475.1" cy="52.6" r="2.45"/><circle cx="475.2" cy="52.6" r="2.45"/><circle cx="475.3" cy="86.0" r="2.45"/><circle cx="475.5" cy="86.0" r="2.45"/><circle cx="475.7" cy="86.0" r="2.45"/><circle cx="475.9" cy="52.6" r="2.45"/><circle cx="476.0" cy="86.0" r="2.45"/><circle cx="476.4" cy="52.6" r="2.45"/><circle cx="476.5" cy="86.0" r="2.45"/><circle cx="477.5" cy="86.0" r="2.45"/><circle cx="478.2" cy="52.6" r="2.45"/><circle cx="478.4" cy="86.0" r="2.45"/><circle cx="478.5" cy="52.6" r="2.45"/><circle cx="478.5" cy="99.3" r="2.45"/><circle cx="478.8" cy="99.3" r="2.45"/><circle cx="479.1" cy="86.0" r="2.45"/><circle cx="479.5" cy="52.6" r="2.45"/><circle cx="479.5" cy="86.0" r="2.45"/><circle cx="479.6" cy="52.6" r="2.45"/><circle cx="479.8" cy="86.0" r="2.45"/><circle cx="480.0" cy="52.6" r="2.45"/><circle cx="480.1" cy="52.6" r="2.45"/><circle cx="480.2" cy="99.3" r="2.45"/><circle cx="480.6" cy="52.6" r="2.45"/><circle cx="480.6" cy="86.0" r="2.45"/><circle cx="480.7" cy="86.0" r="2.45"/><circle cx="480.9" cy="52.6" r="2.45"/><circle cx="481.0" cy="99.3" r="2.45"/><circle cx="481.3" cy="86.0" r="2.45"/><circle cx="481.4" cy="116.0" r="2.45"/><circle cx="481.6" cy="52.6" r="2.45"/><circle cx="481.7" cy="86.0" r="2.45"/><circle cx="481.9" cy="52.6" r="2.45"/><circle cx="482.2" cy="86.0" r="2.45"/><circle cx="482.3" cy="52.6" r="2.45"/><circle cx="482.3" cy="99.3" r="2.45"/><circle cx="482.7" cy="52.6" r="2.45"/><circle cx="482.8" cy="86.0" r="2.45"/><circle cx="483.0" cy="52.6" r="2.45"/><circle cx="483.5" cy="112.6" r="2.45"/><circle cx="483.8" cy="86.0" r="2.45"/><circle cx="484.4" cy="52.6" r="2.45"/><circle cx="484.6" cy="52.6" r="2.45"/><circle cx="484.6" cy="86.0" r="2.45"/><circle cx="484.7" cy="52.6" r="2.45"/><circle cx="484.9" cy="52.6" r="2.45"/><circle cx="485.0" cy="52.6" r="2.45"/><circle cx="485.0" cy="99.3" r="2.45"/><circle cx="485.4" cy="86.0" r="2.45"/><circle cx="485.9" cy="52.6" r="2.45"/><circle cx="486.6" cy="52.6" r="2.45"/><circle cx="487.0" cy="52.6" r="2.45"/><circle cx="487.1" cy="52.6" r="2.45"/><circle cx="487.2" cy="52.6" r="2.45"/><circle cx="487.2" cy="99.3" r="2.45"/><circle cx="487.3" cy="52.6" r="2.45"/><circle cx="487.4" cy="52.6" r="2.45"/><circle cx="488.0" cy="52.6" r="2.45"/><circle cx="488.3" cy="52.6" r="2.45"/><circle cx="488.5" cy="86.0" r="2.45"/><circle cx="488.5" cy="112.6" r="2.45"/><circle cx="488.6" cy="52.6" r="2.45"/><circle cx="488.7" cy="52.6" r="2.45"/><circle cx="489.1" cy="52.6" r="2.45"/><circle cx="489.3" cy="86.0" r="2.45"/><circle cx="489.7" cy="99.3" r="2.45"/><circle cx="490.3" cy="52.6" r="2.45"/><circle cx="490.4" cy="52.6" r="2.45"/><circle cx="490.4" cy="86.0" r="2.45"/><circle cx="490.5" cy="52.6" r="2.45"/><circle cx="490.6" cy="52.6" r="2.45"/><circle cx="491.0" cy="96.0" r="2.45"/><circle cx="491.0" cy="99.3" r="2.45"/><circle cx="491.2" cy="52.6" r="2.45"/><circle cx="491.5" cy="52.6" r="2.45"/><circle cx="491.6" cy="52.6" r="2.45"/><circle cx="491.6" cy="86.0" r="2.45"/><circle cx="491.9" cy="52.6" r="2.45"/><circle cx="492.2" cy="52.6" r="2.45"/><circle cx="492.2" cy="86.0" r="2.45"/><circle cx="492.4" cy="52.6" r="2.45"/><circle cx="492.9" cy="52.6" r="2.45"/><circle cx="493.2" cy="52.6" r="2.45"/><circle cx="493.3" cy="52.6" r="2.45"/><circle cx="493.4" cy="86.0" r="2.45"/><circle cx="493.5" cy="99.3" r="2.45"/><circle cx="493.9" cy="86.0" r="2.45"/><circle cx="494.2" cy="52.6" r="2.45"/><circle cx="494.2" cy="86.0" r="2.45"/><circle cx="494.7" cy="86.0" r="2.45"/><circle cx="494.9" cy="52.6" r="2.45"/><circle cx="495.1" cy="86.0" r="2.45"/><circle cx="495.5" cy="52.6" r="2.45"/><circle cx="496.0" cy="86.0" r="2.45"/><circle cx="496.0" cy="92.6" r="2.45"/><circle cx="496.8" cy="52.6" r="2.45"/><circle cx="497.6" cy="52.6" r="2.45"/><circle cx="497.7" cy="52.6" r="2.45"/><circle cx="497.8" cy="86.0" r="2.45"/><circle cx="498.1" cy="52.6" r="2.45"/><circle cx="498.4" cy="92.6" r="2.45"/><circle cx="498.5" cy="52.6" r="2.45"/><circle cx="498.9" cy="52.6" r="2.45"/><circle cx="499.7" cy="52.6" r="2.45"/><circle cx="500.4" cy="52.6" r="2.45"/><circle cx="500.9" cy="86.0" r="2.45"/><circle cx="501.4" cy="86.0" r="2.45"/><circle cx="501.6" cy="52.6" r="2.45"/><circle cx="501.8" cy="52.6" r="2.45"/><circle cx="502.2" cy="99.3" r="2.45"/><circle cx="502.3" cy="52.6" r="2.45"/><circle cx="502.5" cy="52.6" r="2.45"/><circle cx="503.4" cy="86.0" r="2.45"/><circle cx="503.9" cy="52.6" r="2.45"/><circle cx="504.0" cy="52.6" r="2.45"/><circle cx="504.4" cy="52.6" r="2.45"/><circle cx="504.8" cy="52.6" r="2.45"/><circle cx="505.1" cy="52.6" r="2.45"/><circle cx="506.0" cy="52.6" r="2.45"/><circle cx="506.2" cy="52.6" r="2.45"/><circle cx="506.4" cy="52.6" r="2.45"/><circle cx="506.6" cy="52.6" r="2.45"/><circle cx="508.2" cy="52.6" r="2.45"/><circle cx="508.4" cy="72.6" r="2.45"/><circle cx="509.1" cy="52.6" r="2.45"/><circle cx="509.2" cy="52.6" r="2.45"/><circle cx="509.3" cy="52.6" r="2.45"/><circle cx="509.8" cy="52.6" r="2.45"/><circle cx="510.3" cy="52.6" r="2.45"/><circle cx="512.1" cy="52.6" r="2.45"/><circle cx="512.4" cy="52.6" r="2.45"/><circle cx="512.7" cy="52.6" r="2.45"/><circle cx="512.8" cy="52.6" r="2.45"/><circle cx="513.4" cy="66.0" r="2.45"/><circle cx="513.6" cy="52.6" r="2.45"/><circle cx="513.7" cy="52.6" r="2.45"/><circle cx="514.5" cy="52.6" r="2.45"/><circle cx="515.4" cy="52.6" r="2.45"/><circle cx="516.6" cy="52.6" r="2.45"/><circle cx="517.3" cy="52.6" r="2.45"/><circle cx="517.5" cy="52.6" r="2.45"/><circle cx="518.8" cy="52.6" r="2.45"/><circle cx="519.1" cy="52.6" r="2.45"/><circle cx="520.2" cy="52.6" r="2.45"/><circle cx="520.7" cy="52.6" r="2.45"/><circle cx="520.9" cy="52.6" r="2.45"/><circle cx="524.2" cy="89.0" r="2.45"/><circle cx="525.9" cy="52.6" r="2.45"/><circle cx="529.1" cy="52.6" r="2.45"/><circle cx="534.3" cy="52.6" r="2.45"/></g>
<line x1="428.2" y1="130.6" x2="508.0" y2="45.4" stroke="#000" stroke-width="2.6"/>
</g>
<text x="545.60" y="150" font-size="11.35" text-anchor="end" fill="#111">p &lt; 0.001</text>
<text x="545.60" y="165.7" font-size="11.35" text-anchor="end" fill="#111">n = 101</text>
<rect x="428.20" y="45.4" width="123.3" height="126.10" fill="none" stroke="#333" stroke-width="0.8"/>
<line x1="433.65" x2="433.65" y1="171.5" y2="174.5" stroke="#333" stroke-width="1"/>
<text x="433.65" y="185.60" font-size="10.4" text-anchor="middle" fill="#111">0</text>
<line x1="458.57" x2="458.57" y1="171.5" y2="174.5" stroke="#333" stroke-width="1"/>
<text x="458.57" y="185.60" font-size="10.4" text-anchor="middle" fill="#111">2</text>
<line x1="483.49" x2="483.49" y1="171.5" y2="174.5" stroke="#333" stroke-width="1"/>
<text x="483.49" y="185.60" font-size="10.4" text-anchor="middle" fill="#111">4</text>
<line x1="508.41" x2="508.41" y1="171.5" y2="174.5" stroke="#333" stroke-width="1"/>
<text x="508.41" y="185.60" font-size="10.4" text-anchor="middle" fill="#111">6</text>
<line x1="533.33" x2="533.33" y1="171.5" y2="174.5" stroke="#333" stroke-width="1"/>
<text x="533.33" y="185.60" font-size="10.4" text-anchor="middle" fill="#111">8</text>
<rect x="558.60" y="24.5" width="123.3" height="20.90" fill="#dcdcdc" stroke="#333" stroke-width="0.8"/>
<text x="620.25" y="38.55" font-size="10.7" font-weight="bold" text-anchor="middle" fill="#1a1a1a">Older Simultaneous</text>
<g clip-path="url(#ct4)">
<line x1="558.60" x2="681.90" y1="58.00" y2="58.00" stroke="#868686" stroke-width="1.7" stroke-dasharray="4.4 4.75"/>
<g fill="none" stroke="#9590FF" stroke-width="1.2" stroke-linejoin="round"><polyline points="570.4,86.0 576.6,52.6"/><polyline points="572.9,86.0 576.6,52.6"/><polyline points="570.4,86.0 581.6,52.6"/><polyline points="572.9,86.0 584.1,52.6"/><polyline points="576.0,86.0 581.6,52.6"/><polyline points="576.0,86.0 589.6,52.6"/><polyline points="572.9,86.0 584.1,52.6"/><polyline points="576.0,86.0 603.7,52.6"/><polyline points="586.1,86.0 614.9,52.6"/><polyline points="590.8,89.0 624.7,52.6"/><polyline points="603.0,86.0 614.9,52.6"/><polyline points="590.8,89.0 595.4,86.0 603.0,86.0"/><polyline points="575.3,116.0 582.1,99.3 586.1,86.0"/><polyline points="581.0,116.0 590.8,89.0"/><polyline points="581.0,116.0 599.3,99.3"/><polyline points="573.9,99.3 582.1,99.3 588.0,99.3"/><polyline points="574.8,117.6 588.3,112.4"/><polyline points="571.0,116.0 574.8,117.6 578.3,119.6 581.0,116.0"/><polyline points="572.3,122.6 571.0,116.0"/><polyline points="572.3,122.6 578.3,119.6"/><polyline points="588.0,99.3 595.4,86.0"/><polyline points="571.0,116.0 582.1,99.3"/></g>
<g fill="#9590FF"><circle cx="570.4" cy="86.0" r="2.45"/><circle cx="571.0" cy="116.0" r="2.45"/><circle cx="572.3" cy="122.6" r="2.45"/><circle cx="572.9" cy="86.0" r="2.45"/><circle cx="573.9" cy="99.3" r="2.45"/><circle cx="574.8" cy="117.6" r="2.45"/><circle cx="575.3" cy="116.0" r="2.45"/><circle cx="576.0" cy="86.0" r="2.45"/><circle cx="576.6" cy="52.6" r="2.45"/><circle cx="578.3" cy="119.6" r="2.45"/><circle cx="581.0" cy="116.0" r="2.45"/><circle cx="581.6" cy="52.6" r="2.45"/><circle cx="582.1" cy="99.3" r="2.45"/><circle cx="584.1" cy="52.6" r="2.45"/><circle cx="586.1" cy="86.0" r="2.45"/><circle cx="588.0" cy="99.3" r="2.45"/><circle cx="588.3" cy="112.4" r="2.45"/><circle cx="589.6" cy="52.6" r="2.45"/><circle cx="590.8" cy="89.0" r="2.45"/><circle cx="595.4" cy="86.0" r="2.45"/><circle cx="599.3" cy="99.3" r="2.45"/><circle cx="603.0" cy="86.0" r="2.45"/><circle cx="603.7" cy="52.6" r="2.45"/><circle cx="614.9" cy="52.6" r="2.45"/><circle cx="624.7" cy="52.6" r="2.45"/></g>
<line x1="558.6" y1="110.4" x2="619.5" y2="45.4" stroke="#000" stroke-width="2.6"/>
</g>
<text x="676.00" y="150" font-size="11.35" text-anchor="end" fill="#111">p &lt; 0.001</text>
<text x="676.00" y="165.7" font-size="11.35" text-anchor="end" fill="#111">n = 17</text>
<rect x="558.60" y="45.4" width="123.3" height="126.10" fill="none" stroke="#333" stroke-width="0.8"/>
<line x1="564.05" x2="564.05" y1="171.5" y2="174.5" stroke="#333" stroke-width="1"/>
<text x="564.05" y="185.60" font-size="10.4" text-anchor="middle" fill="#111">0</text>
<line x1="588.97" x2="588.97" y1="171.5" y2="174.5" stroke="#333" stroke-width="1"/>
<text x="588.97" y="185.60" font-size="10.4" text-anchor="middle" fill="#111">2</text>
<line x1="613.89" x2="613.89" y1="171.5" y2="174.5" stroke="#333" stroke-width="1"/>
<text x="613.89" y="185.60" font-size="10.4" text-anchor="middle" fill="#111">4</text>
<line x1="638.81" x2="638.81" y1="171.5" y2="174.5" stroke="#333" stroke-width="1"/>
<text x="638.81" y="185.60" font-size="10.4" text-anchor="middle" fill="#111">6</text>
<line x1="663.73" x2="663.73" y1="171.5" y2="174.5" stroke="#333" stroke-width="1"/>
<text x="663.73" y="185.60" font-size="10.4" text-anchor="middle" fill="#111">8</text>
<line x1="34.00" x2="37.00" y1="166.00" y2="166.00" stroke="#333" stroke-width="1"/>
<text x="30.70" y="170.70" font-size="10.3" text-anchor="end" fill="#111">0</text>
<line x1="34.00" x2="37.00" y1="152.66" y2="152.66" stroke="#333" stroke-width="1"/>
<text x="30.70" y="157.36" font-size="10.3" text-anchor="end" fill="#111">4</text>
<line x1="34.00" x2="37.00" y1="139.32" y2="139.32" stroke="#333" stroke-width="1"/>
<text x="30.70" y="144.02" font-size="10.3" text-anchor="end" fill="#111">8</text>
<line x1="34.00" x2="37.00" y1="125.98" y2="125.98" stroke="#333" stroke-width="1"/>
<text x="30.70" y="130.68" font-size="10.3" text-anchor="end" fill="#111">12</text>
<line x1="34.00" x2="37.00" y1="112.64" y2="112.64" stroke="#333" stroke-width="1"/>
<text x="30.70" y="117.34" font-size="10.3" text-anchor="end" fill="#111">16</text>
<line x1="34.00" x2="37.00" y1="99.30" y2="99.30" stroke="#333" stroke-width="1"/>
<text x="30.70" y="104.00" font-size="10.3" text-anchor="end" fill="#111">20</text>
<line x1="34.00" x2="37.00" y1="85.96" y2="85.96" stroke="#333" stroke-width="1"/>
<text x="30.70" y="90.66" font-size="10.3" text-anchor="end" fill="#111">24</text>
<line x1="34.00" x2="37.00" y1="72.62" y2="72.62" stroke="#333" stroke-width="1"/>
<text x="30.70" y="77.32" font-size="10.3" text-anchor="end" fill="#111">28</text>
<line x1="34.00" x2="37.00" y1="59.28" y2="59.28" stroke="#333" stroke-width="1"/>
<text x="30.70" y="63.98" font-size="10.3" text-anchor="end" fill="#111">32</text>
<text transform="translate(11.9,108.5) rotate(-90)" font-size="13.3" text-anchor="middle" fill="#000">PROSPER score</text>
<text x="359.4" y="201.7" font-size="13.45" text-anchor="middle" fill="#000">Bilateral device use (years)</text>
<rect x="37.00" y="237.4" width="123.3" height="20.70" fill="#dcdcdc" stroke="#333" stroke-width="0.8"/>
<text x="98.65" y="251.35" font-size="10.7" font-weight="bold" text-anchor="middle" fill="#1a1a1a">Bimodal</text>
<g clip-path="url(#cb0)">
<line x1="37.00" x2="160.30" y1="271.00" y2="271.00" stroke="#555" stroke-width="1.7" stroke-dasharray="4.4 4.75"/>
<line x1="87.33" x2="87.33" y1="386.8" y2="258.1" stroke="#333" stroke-width="1" stroke-dasharray="1 3.55"/>
<g fill="none" stroke="#00BF7D" stroke-width="1.2" stroke-linejoin="round"><polyline points="74.1,334.0 83.1,313.7"/><polyline points="67.0,334.0 70.7,327.3 75.0,313.7 80.0,300.1"/><polyline points="68.5,334.0 70.7,327.3"/><polyline points="112.4,313.7 115.2,300.1"/><polyline points="124.7,300.1 130.0,269.6"/><polyline points="79.5,300.1 99.7,266.2"/><polyline points="69.3,313.7 72.9,300.1 78.3,266.2"/><polyline points="74.4,300.1 77.4,266.2"/><polyline points="73.7,313.7 78.1,300.1 82.5,266.2"/><polyline points="74.9,313.7 79.3,300.1 82.8,266.2"/><polyline points="71.4,300.1 76.6,266.2"/><polyline points="69.9,313.7 75.2,300.1 79.5,266.2"/><polyline points="70.4,313.7 73.9,300.1 78.8,266.2"/><polyline points="66.6,300.1 71.6,266.2"/><polyline points="72.4,300.1 77.2,266.2"/><polyline points="75.6,300.1 81.0,266.2"/><polyline points="75.8,300.1 80.2,266.2"/><polyline points="73.3,313.7 76.9,300.1 80.1,266.2"/><polyline points="64.6,313.7 69.5,300.1 74.4,266.2"/><polyline points="71.7,300.1 76.8,266.2"/><polyline points="70.7,300.1 75.2,266.2"/><polyline points="69.1,300.1 72.9,266.2"/><polyline points="61.0,313.7 63.3,313.7 65.6,313.7 68.0,313.7 70.3,313.7 72.7,313.7 75.0,313.7"/><polyline points="66.0,300.1 68.3,300.1 70.7,300.1 73.0,300.1 75.4,300.1 77.7,300.1 80.0,300.1"/><polyline points="70.5,266.2 72.6,266.2 74.6,266.2 76.7,266.2 78.7,266.2 80.8,266.2 82.8,266.2"/></g>
<g fill="#00BF7D"><circle cx="61.0" cy="313.7" r="2.45"/><circle cx="63.3" cy="313.7" r="2.45"/><circle cx="64.6" cy="313.7" r="2.45"/><circle cx="65.6" cy="313.7" r="2.45"/><circle cx="66.0" cy="300.1" r="2.45"/><circle cx="66.6" cy="300.1" r="2.45"/><circle cx="67.0" cy="334.0" r="2.45"/><circle cx="68.0" cy="313.7" r="2.45"/><circle cx="68.3" cy="300.1" r="2.45"/><circle cx="68.5" cy="334.0" r="2.45"/><circle cx="69.1" cy="300.1" r="2.45"/><circle cx="69.3" cy="313.7" r="2.45"/><circle cx="69.5" cy="300.1" r="2.45"/><circle cx="69.9" cy="313.7" r="2.45"/><circle cx="70.3" cy="313.7" r="2.45"/><circle cx="70.4" cy="313.7" r="2.45"/><circle cx="70.5" cy="266.2" r="2.45"/><circle cx="70.7" cy="300.1" r="2.45"/><circle cx="70.7" cy="327.3" r="2.45"/><circle cx="71.4" cy="300.1" r="2.45"/><circle cx="71.6" cy="266.2" r="2.45"/><circle cx="71.7" cy="300.1" r="2.45"/><circle cx="72.4" cy="300.1" r="2.45"/><circle cx="72.6" cy="266.2" r="2.45"/><circle cx="72.7" cy="313.7" r="2.45"/><circle cx="72.9" cy="266.2" r="2.45"/><circle cx="72.9" cy="300.1" r="2.45"/><circle cx="73.0" cy="300.1" r="2.45"/><circle cx="73.3" cy="313.7" r="2.45"/><circle cx="73.7" cy="313.7" r="2.45"/><circle cx="73.9" cy="300.1" r="2.45"/><circle cx="74.1" cy="334.0" r="2.45"/><circle cx="74.4" cy="266.2" r="2.45"/><circle cx="74.4" cy="300.1" r="2.45"/><circle cx="74.6" cy="266.2" r="2.45"/><circle cx="74.9" cy="313.7" r="2.45"/><circle cx="75.0" cy="313.7" r="2.45"/><circle cx="75.2" cy="266.2" r="2.45"/><circle cx="75.2" cy="300.1" r="2.45"/><circle cx="75.4" cy="300.1" r="2.45"/><circle cx="75.6" cy="300.1" r="2.45"/><circle cx="75.8" cy="300.1" r="2.45"/><circle cx="76.6" cy="266.2" r="2.45"/><circle cx="76.7" cy="266.2" r="2.45"/><circle cx="76.8" cy="266.2" r="2.45"/><circle cx="76.9" cy="300.1" r="2.45"/><circle cx="77.2" cy="266.2" r="2.45"/><circle cx="77.4" cy="266.2" r="2.45"/><circle cx="77.7" cy="300.1" r="2.45"/><circle cx="78.1" cy="300.1" r="2.45"/><circle cx="78.3" cy="266.2" r="2.45"/><circle cx="78.7" cy="266.2" r="2.45"/><circle cx="78.8" cy="266.2" r="2.45"/><circle cx="79.3" cy="300.1" r="2.45"/><circle cx="79.5" cy="266.2" r="2.45"/><circle cx="79.5" cy="300.1" r="2.45"/><circle cx="80.0" cy="300.1" r="2.45"/><circle cx="80.1" cy="266.2" r="2.45"/><circle cx="80.2" cy="266.2" r="2.45"/><circle cx="80.8" cy="266.2" r="2.45"/><circle cx="81.0" cy="266.2" r="2.45"/><circle cx="82.5" cy="266.2" r="2.45"/><circle cx="82.8" cy="266.2" r="2.45"/><circle cx="83.1" cy="313.7" r="2.45"/><circle cx="99.7" cy="266.2" r="2.45"/><circle cx="112.4" cy="313.7" r="2.45"/><circle cx="115.2" cy="300.1" r="2.45"/><circle cx="124.7" cy="300.1" r="2.45"/><circle cx="130.0" cy="269.6" r="2.45"/></g>
</g>
<text x="154.40" y="382" font-size="11.4" text-anchor="end" fill="#111">PBK: n = 11 / 18</text>
<rect x="37.00" y="258.1" width="123.3" height="128.70" fill="none" stroke="#333" stroke-width="0.8"/>
<line x1="42.45" x2="42.45" y1="386.8" y2="389.8" stroke="#333" stroke-width="1"/>
<text x="42.45" y="400.90" font-size="10.4" text-anchor="middle" fill="#111">0</text>
<line x1="64.89" x2="64.89" y1="386.8" y2="389.8" stroke="#333" stroke-width="1"/>
<text x="64.89" y="400.90" font-size="10.4" text-anchor="middle" fill="#111">4</text>
<line x1="87.33" x2="87.33" y1="386.8" y2="389.8" stroke="#333" stroke-width="1"/>
<text x="87.33" y="400.90" font-size="10.4" text-anchor="middle" fill="#111">8</text>
<line x1="109.77" x2="109.77" y1="386.8" y2="389.8" stroke="#333" stroke-width="1"/>
<text x="109.77" y="400.90" font-size="10.4" text-anchor="middle" fill="#111">12</text>
<line x1="132.21" x2="132.21" y1="386.8" y2="389.8" stroke="#333" stroke-width="1"/>
<text x="132.21" y="400.90" font-size="10.4" text-anchor="middle" fill="#111">16</text>
<line x1="154.65" x2="154.65" y1="386.8" y2="389.8" stroke="#333" stroke-width="1"/>
<text x="154.65" y="400.90" font-size="10.4" text-anchor="middle" fill="#111">20</text>
<rect x="167.40" y="237.4" width="123.3" height="20.70" fill="#dcdcdc" stroke="#333" stroke-width="0.8"/>
<text x="229.05" y="251.35" font-size="10.7" font-weight="bold" text-anchor="middle" fill="#1a1a1a">Bimodal Sequential</text>
<g clip-path="url(#cb1)">
<line x1="167.40" x2="290.70" y1="271.00" y2="271.00" stroke="#555" stroke-width="1.7" stroke-dasharray="4.4 4.75"/>
<line x1="217.73" x2="217.73" y1="386.8" y2="258.1" stroke="#333" stroke-width="1" stroke-dasharray="1 3.55"/>
<g fill="none" stroke="#A3A500" stroke-width="1.2" stroke-linejoin="round"><polyline points="198.4,333.7 209.9,266.2"/></g>
<g fill="#A3A500"><circle cx="198.4" cy="333.7" r="2.45"/><circle cx="209.9" cy="266.2" r="2.45"/></g>
</g>
<rect x="167.40" y="258.1" width="123.3" height="128.70" fill="none" stroke="#333" stroke-width="0.8"/>
<line x1="172.85" x2="172.85" y1="386.8" y2="389.8" stroke="#333" stroke-width="1"/>
<text x="172.85" y="400.90" font-size="10.4" text-anchor="middle" fill="#111">0</text>
<line x1="195.29" x2="195.29" y1="386.8" y2="389.8" stroke="#333" stroke-width="1"/>
<text x="195.29" y="400.90" font-size="10.4" text-anchor="middle" fill="#111">4</text>
<line x1="217.73" x2="217.73" y1="386.8" y2="389.8" stroke="#333" stroke-width="1"/>
<text x="217.73" y="400.90" font-size="10.4" text-anchor="middle" fill="#111">8</text>
<line x1="240.17" x2="240.17" y1="386.8" y2="389.8" stroke="#333" stroke-width="1"/>
<text x="240.17" y="400.90" font-size="10.4" text-anchor="middle" fill="#111">12</text>
<line x1="262.61" x2="262.61" y1="386.8" y2="389.8" stroke="#333" stroke-width="1"/>
<text x="262.61" y="400.90" font-size="10.4" text-anchor="middle" fill="#111">16</text>
<line x1="285.05" x2="285.05" y1="386.8" y2="389.8" stroke="#333" stroke-width="1"/>
<text x="285.05" y="400.90" font-size="10.4" text-anchor="middle" fill="#111">20</text>
<rect x="297.80" y="237.4" width="123.3" height="20.70" fill="#dcdcdc" stroke="#333" stroke-width="0.8"/>
<text x="359.45" y="251.35" font-size="10.7" font-weight="bold" text-anchor="middle" fill="#1a1a1a">Sequential</text>
<g clip-path="url(#cb2)">
<line x1="297.80" x2="421.10" y1="271.00" y2="271.00" stroke="#555" stroke-width="1.7" stroke-dasharray="4.4 4.75"/>
<line x1="348.13" x2="348.13" y1="386.8" y2="258.1" stroke="#333" stroke-width="1" stroke-dasharray="1 3.55"/>
<g fill="none" stroke="#F8766D" stroke-width="1.2" stroke-linejoin="round"><polyline points="326.7,300.1 329.0,266.2"/><polyline points="322.6,300.1 336.1,266.2"/><polyline points="342.5,300.1 352.0,266.2"/><polyline points="327.8,300.1 330.6,266.2"/><polyline points="346.5,300.1 360.5,266.2"/><polyline points="342.5,300.1 353.1,266.2"/><polyline points="322.5,300.1 327.9,266.2"/><polyline points="325.1,300.1 332.9,266.2"/><polyline points="320.3,300.1 335.7,266.2"/><polyline points="343.9,300.1 355.7,266.2"/><polyline points="332.2,300.1 334.8,266.2"/><polyline points="322.4,300.1 341.4,266.2"/><polyline points="339.7,300.1 342.3,266.2"/><polyline points="331.7,300.1 346.2,266.2"/><polyline points="325.2,300.1 329.6,266.2"/><polyline points="345.4,300.1 347.8,266.2"/><polyline points="327.9,300.1 333.1,266.2"/><polyline points="329.4,300.1 332.1,266.2"/><polyline points="330.1,300.1 348.7,266.2"/><polyline points="336.0,313.7 340.9,300.1 347.0,266.2"/><polyline points="341.7,313.7 345.8,300.1 360.5,266.2"/><polyline points="333.2,313.7 337.5,300.1 342.3,266.2"/><polyline points="328.8,313.7 330.5,300.1 345.7,266.2"/><polyline points="326.0,313.7 327.2,300.1 331.7,266.2"/><polyline points="337.2,313.7 339.7,300.1 343.3,266.2"/><polyline points="342.1,313.7 344.9,300.1 347.9,266.2"/><polyline points="319.2,313.7 321.0,300.1 325.2,266.2"/><polyline points="318.8,313.7 321.9,300.1 337.6,266.2"/><polyline points="317.2,334.0 321.0,313.7 328.8,266.2"/><polyline points="318.3,334.0 320.8,313.7 326.9,266.2"/><polyline points="316.1,334.0 319.4,313.7 327.2,266.2"/><polyline points="321.4,334.0 323.9,313.7 327.5,266.2"/><polyline points="319.0,334.0 321.7,313.7 330.2,266.2"/><polyline points="321.7,327.3 323.4,313.7"/><polyline points="321.4,327.3 324.5,313.7"/><polyline points="321.3,327.3 322.7,313.7"/><polyline points="323.8,266.2 326.4,266.2 329.1,266.2"/><polyline points="332.4,266.2 334.8,266.2 337.1,266.2 339.4,266.2 341.8,266.2 344.1,266.2 346.4,266.2 348.8,266.2 351.1,266.2 353.5,266.2 355.8,266.2 358.1,266.2 360.5,266.2"/><polyline points="320.1,300.1 322.3,300.1 324.6,300.1 326.8,300.1 329.1,300.1 331.3,300.1 333.5,300.1 335.8,300.1 338.0,300.1 340.3,300.1 342.5,300.1 344.8,300.1 347.0,300.1 349.3,300.1 351.5,300.1 353.7,300.1"/><polyline points="317.8,313.7 320.0,313.7 322.1,313.7 324.3,313.7 326.4,313.7 328.6,313.7 330.7,313.7"/><polyline points="338.0,313.7 340.3,313.7 342.5,313.7"/><polyline points="315.6,334.0 317.8,334.0 320.1,334.0"/><polyline points="323.4,334.0 325.7,334.0 327.9,334.0"/><polyline points="320.1,327.3 324.0,327.3"/><polyline points="403.7,266.2 401.4,330.6"/><polyline points="394.1,266.2 389.1,300.1"/><polyline points="379.5,266.2 369.4,300.1"/><polyline points="382.9,266.2 369.4,300.1"/><polyline points="372.8,269.6 363.8,303.5"/><polyline points="366.1,266.2 356.5,303.5"/><polyline points="366.1,266.2 361.0,300.1"/><polyline points="353.7,300.1 356.5,303.5 361.0,300.1 363.8,303.5 369.4,300.1"/><polyline points="334.1,334.0 356.5,303.5"/><polyline points="321.2,269.6 320.1,313.7"/><polyline points="321.2,269.6 321.8,300.1"/><polyline points="332.4,327.3 329.1,334.0"/><polyline points="332.4,327.3 336.9,313.7"/><polyline points="339.7,313.7 339.7,300.1"/><polyline points="342.5,313.7 342.5,300.1"/></g>
<g fill="#F8766D"><circle cx="315.6" cy="334.0" r="2.45"/><circle cx="316.1" cy="334.0" r="2.45"/><circle cx="317.2" cy="334.0" r="2.45"/><circle cx="317.8" cy="313.7" r="2.45"/><circle cx="317.8" cy="334.0" r="2.45"/><circle cx="318.3" cy="334.0" r="2.45"/><circle cx="318.8" cy="313.7" r="2.45"/><circle cx="319.0" cy="334.0" r="2.45"/><circle cx="319.2" cy="313.7" r="2.45"/><circle cx="319.4" cy="313.7" r="2.45"/><circle cx="320.0" cy="313.7" r="2.45"/><circle cx="320.1" cy="300.1" r="2.45"/><circle cx="320.1" cy="313.7" r="2.45"/><circle cx="320.1" cy="327.3" r="2.45"/><circle cx="320.1" cy="334.0" r="2.45"/><circle cx="320.3" cy="300.1" r="2.45"/><circle cx="320.8" cy="313.7" r="2.45"/><circle cx="321.0" cy="300.1" r="2.45"/><circle cx="321.0" cy="313.7" r="2.45"/><circle cx="321.2" cy="269.6" r="2.45"/><circle cx="321.3" cy="327.3" r="2.45"/><circle cx="321.4" cy="327.3" r="2.45"/><circle cx="321.4" cy="334.0" r="2.45"/><circle cx="321.7" cy="313.7" r="2.45"/><circle cx="321.7" cy="327.3" r="2.45"/><circle cx="321.8" cy="300.1" r="2.45"/><circle cx="321.9" cy="300.1" r="2.45"/><circle cx="322.1" cy="313.7" r="2.45"/><circle cx="322.3" cy="300.1" r="2.45"/><circle cx="322.4" cy="300.1" r="2.45"/><circle cx="322.5" cy="300.1" r="2.45"/><circle cx="322.6" cy="300.1" r="2.45"/><circle cx="322.7" cy="313.7" r="2.45"/><circle cx="323.4" cy="313.7" r="2.45"/><circle cx="323.4" cy="334.0" r="2.45"/><circle cx="323.8" cy="266.2" r="2.45"/><circle cx="323.9" cy="313.7" r="2.45"/><circle cx="324.0" cy="327.3" r="2.45"/><circle cx="324.3" cy="313.7" r="2.45"/><circle cx="324.5" cy="313.7" r="2.45"/><circle cx="324.6" cy="300.1" r="2.45"/><circle cx="325.1" cy="300.1" r="2.45"/><circle cx="325.2" cy="266.2" r="2.45"/><circle cx="325.2" cy="300.1" r="2.45"/><circle cx="325.7" cy="334.0" r="2.45"/><circle cx="326.0" cy="313.7" r="2.45"/><circle cx="326.4" cy="266.2" r="2.45"/><circle cx="326.4" cy="313.7" r="2.45"/><circle cx="326.7" cy="300.1" r="2.45"/><circle cx="326.8" cy="300.1" r="2.45"/><circle cx="326.9" cy="266.2" r="2.45"/><circle cx="327.2" cy="266.2" r="2.45"/><circle cx="327.2" cy="300.1" r="2.45"/><circle cx="327.5" cy="266.2" r="2.45"/><circle cx="327.8" cy="300.1" r="2.45"/><circle cx="327.9" cy="266.2" r="2.45"/><circle cx="327.9" cy="300.1" r="2.45"/><circle cx="327.9" cy="334.0" r="2.45"/><circle cx="328.6" cy="313.7" r="2.45"/><circle cx="328.8" cy="266.2" r="2.45"/><circle cx="328.8" cy="313.7" r="2.45"/><circle cx="329.0" cy="266.2" r="2.45"/><circle cx="329.1" cy="266.2" r="2.45"/><circle cx="329.1" cy="300.1" r="2.45"/><circle cx="329.1" cy="334.0" r="2.45"/><circle cx="329.4" cy="300.1" r="2.45"/><circle cx="329.6" cy="266.2" r="2.45"/><circle cx="330.1" cy="300.1" r="2.45"/><circle cx="330.2" cy="266.2" r="2.45"/><circle cx="330.5" cy="300.1" r="2.45"/><circle cx="330.6" cy="266.2" r="2.45"/><circle cx="330.7" cy="313.7" r="2.45"/><circle cx="331.3" cy="300.1" r="2.45"/><circle cx="331.7" cy="266.2" r="2.45"/><circle cx="331.7" cy="300.1" r="2.45"/><circle cx="332.1" cy="266.2" r="2.45"/><circle cx="332.2" cy="300.1" r="2.45"/><circle cx="332.4" cy="266.2" r="2.45"/><circle cx="332.4" cy="327.3" r="2.45"/><circle cx="332.9" cy="266.2" r="2.45"/><circle cx="333.1" cy="266.2" r="2.45"/><circle cx="333.2" cy="313.7" r="2.45"/><circle cx="333.5" cy="300.1" r="2.45"/><circle cx="334.1" cy="334.0" r="2.45"/><circle cx="334.8" cy="266.2" r="2.45"/><circle cx="335.7" cy="266.2" r="2.45"/><circle cx="335.8" cy="300.1" r="2.45"/><circle cx="336.0" cy="313.7" r="2.45"/><circle cx="336.1" cy="266.2" r="2.45"/><circle cx="336.9" cy="313.7" r="2.45"/><circle cx="337.1" cy="266.2" r="2.45"/><circle cx="337.2" cy="313.7" r="2.45"/><circle cx="337.5" cy="300.1" r="2.45"/><circle cx="337.6" cy="266.2" r="2.45"/><circle cx="338.0" cy="300.1" r="2.45"/><circle cx="338.0" cy="313.7" r="2.45"/><circle cx="339.4" cy="266.2" r="2.45"/><circle cx="339.7" cy="300.1" r="2.45"/><circle cx="339.7" cy="313.7" r="2.45"/><circle cx="340.3" cy="300.1" r="2.45"/><circle cx="340.3" cy="313.7" r="2.45"/><circle cx="340.9" cy="300.1" r="2.45"/><circle cx="341.4" cy="266.2" r="2.45"/><circle cx="341.7" cy="313.7" r="2.45"/><circle cx="341.8" cy="266.2" r="2.45"/><circle cx="342.1" cy="313.7" r="2.45"/><circle cx="342.3" cy="266.2" r="2.45"/><circle cx="342.5" cy="300.1" r="2.45"/><circle cx="342.5" cy="313.7" r="2.45"/><circle cx="343.3" cy="266.2" r="2.45"/><circle cx="343.9" cy="300.1" r="2.45"/><circle cx="344.1" cy="266.2" r="2.45"/><circle cx="344.8" cy="300.1" r="2.45"/><circle cx="344.9" cy="300.1" r="2.45"/><circle cx="345.4" cy="300.1" r="2.45"/><circle cx="345.7" cy="266.2" r="2.45"/><circle cx="345.8" cy="300.1" r="2.45"/><circle cx="346.2" cy="266.2" r="2.45"/><circle cx="346.4" cy="266.2" r="2.45"/><circle cx="346.5" cy="300.1" r="2.45"/><circle cx="347.0" cy="266.2" r="2.45"/><circle cx="347.0" cy="300.1" r="2.45"/><circle cx="347.8" cy="266.2" r="2.45"/><circle cx="347.9" cy="266.2" r="2.45"/><circle cx="348.7" cy="266.2" r="2.45"/><circle cx="348.8" cy="266.2" r="2.45"/><circle cx="349.3" cy="300.1" r="2.45"/><circle cx="351.1" cy="266.2" r="2.45"/><circle cx="351.5" cy="300.1" r="2.45"/><circle cx="352.0" cy="266.2" r="2.45"/><circle cx="353.1" cy="266.2" r="2.45"/><circle cx="353.5" cy="266.2" r="2.45"/><circle cx="353.7" cy="300.1" r="2.45"/><circle cx="355.7" cy="266.2" r="2.45"/><circle cx="355.8" cy="266.2" r="2.45"/><circle cx="356.5" cy="303.5" r="2.45"/><circle cx="358.1" cy="266.2" r="2.45"/><circle cx="360.5" cy="266.2" r="2.45"/><circle cx="361.0" cy="300.1" r="2.45"/><circle cx="363.8" cy="303.5" r="2.45"/><circle cx="366.1" cy="266.2" r="2.45"/><circle cx="369.4" cy="300.1" r="2.45"/><circle cx="372.8" cy="269.6" r="2.45"/><circle cx="379.5" cy="266.2" r="2.45"/><circle cx="382.9" cy="266.2" r="2.45"/><circle cx="389.1" cy="300.1" r="2.45"/><circle cx="394.1" cy="266.2" r="2.45"/><circle cx="401.4" cy="330.6" r="2.45"/><circle cx="403.7" cy="266.2" r="2.45"/></g>
</g>
<text x="415.20" y="382" font-size="11.4" text-anchor="end" fill="#111">PBK: n = 35 / 50</text>
<rect x="297.80" y="258.1" width="123.3" height="128.70" fill="none" stroke="#333" stroke-width="0.8"/>
<line x1="303.25" x2="303.25" y1="386.8" y2="389.8" stroke="#333" stroke-width="1"/>
<text x="303.25" y="400.90" font-size="10.4" text-anchor="middle" fill="#111">0</text>
<line x1="325.69" x2="325.69" y1="386.8" y2="389.8" stroke="#333" stroke-width="1"/>
<text x="325.69" y="400.90" font-size="10.4" text-anchor="middle" fill="#111">4</text>
<line x1="348.13" x2="348.13" y1="386.8" y2="389.8" stroke="#333" stroke-width="1"/>
<text x="348.13" y="400.90" font-size="10.4" text-anchor="middle" fill="#111">8</text>
<line x1="370.57" x2="370.57" y1="386.8" y2="389.8" stroke="#333" stroke-width="1"/>
<text x="370.57" y="400.90" font-size="10.4" text-anchor="middle" fill="#111">12</text>
<line x1="393.01" x2="393.01" y1="386.8" y2="389.8" stroke="#333" stroke-width="1"/>
<text x="393.01" y="400.90" font-size="10.4" text-anchor="middle" fill="#111">16</text>
<line x1="415.45" x2="415.45" y1="386.8" y2="389.8" stroke="#333" stroke-width="1"/>
<text x="415.45" y="400.90" font-size="10.4" text-anchor="middle" fill="#111">20</text>
<rect x="428.20" y="237.4" width="123.3" height="20.70" fill="#dcdcdc" stroke="#333" stroke-width="0.8"/>
<text x="489.85" y="251.35" font-size="10.7" font-weight="bold" text-anchor="middle" fill="#1a1a1a">Simultaneous</text>
<g clip-path="url(#cb3)">
<line x1="428.20" x2="551.50" y1="271.00" y2="271.00" stroke="#555" stroke-width="1.7" stroke-dasharray="4.4 4.75"/>
<line x1="478.53" x2="478.53" y1="386.8" y2="258.1" stroke="#333" stroke-width="1" stroke-dasharray="1 3.55"/>
<g fill="none" stroke="#00B0F6" stroke-width="1.2" stroke-linejoin="round"><polyline points="475.3,300.1 480.0,266.2"/><polyline points="445.7,313.7 455.8,266.2"/><polyline points="466.6,300.1 473.7,266.2"/><polyline points="457.9,313.7 465.2,266.2"/><polyline points="455.7,300.1 459.7,266.2"/><polyline points="460.3,300.1 470.3,266.2"/><polyline points="452.4,300.1 458.1,266.2"/><polyline points="446.7,334.0 451.5,313.7 462.9,266.2"/><polyline points="468.0,300.1 475.3,266.2"/><polyline points="470.0,313.7 473.1,300.1 481.0,266.2"/><polyline points="474.8,300.1 482.0,266.2"/><polyline points="474.8,300.1 482.7,266.2"/><polyline points="469.4,313.7 471.7,300.1 477.6,266.2"/><polyline points="451.9,327.3 459.1,300.1 468.2,266.2"/><polyline points="471.4,313.7 475.1,300.1 484.1,266.2"/><polyline points="453.4,300.1 460.9,266.2"/><polyline points="445.3,313.7 449.3,300.1 459.3,266.2"/><polyline points="449.7,313.7 452.0,300.1 457.5,266.2"/><polyline points="456.5,300.1 463.3,266.2"/><polyline points="471.8,300.1 481.8,266.2"/><polyline points="460.0,300.1 465.1,266.2"/><polyline points="472.2,313.7 479.6,266.2"/><polyline points="449.7,300.1 458.8,266.2"/><polyline points="453.9,300.1 460.8,266.2"/><polyline points="460.4,300.1 467.3,266.2"/><polyline points="465.2,300.1 471.1,266.2"/><polyline points="451.7,300.1 456.3,266.2"/><polyline points="453.9,313.7 457.6,300.1 467.0,266.2"/><polyline points="472.3,313.7 474.1,300.1 478.4,266.2"/><polyline points="459.8,300.1 467.6,266.2"/><polyline points="453.6,313.7 457.8,300.1 468.2,266.2"/><polyline points="453.0,327.3 456.9,313.7 470.7,266.2"/><polyline points="475.5,300.1 482.4,266.2"/><polyline points="465.7,300.1 472.9,266.2"/><polyline points="447.8,313.7 450.1,300.1 455.8,266.2"/><polyline points="446.9,313.7 456.6,266.2"/><polyline points="457.2,313.7 459.8,300.1 466.4,266.2"/><polyline points="454.7,300.1 461.6,266.2"/><polyline points="468.9,300.1 477.6,266.2"/><polyline points="443.9,313.7 447.3,300.1 455.8,266.2"/><polyline points="475.4,300.1 484.1,266.2"/><polyline points="464.2,313.7 466.3,300.1 471.5,266.2"/><polyline points="465.3,313.7 468.6,300.1 476.9,266.2"/><polyline points="470.2,313.7 482.7,266.2"/><polyline points="449.8,334.0 455.7,300.1 461.7,266.2"/><polyline points="460.7,327.3 465.6,300.1 471.7,266.2"/><polyline points="452.0,313.7 455.8,300.1 465.5,266.2"/><polyline points="475.2,300.1 484.1,266.2"/><polyline points="457.2,300.1 465.2,266.2"/><polyline points="459.9,327.3 478.3,266.2"/><polyline points="458.7,327.3 463.8,300.1 470.2,266.2"/><polyline points="457.3,327.3 460.9,300.1 465.4,266.2"/><polyline points="451.2,313.7 453.9,300.1 460.7,266.2"/><polyline points="453.9,327.3 464.5,266.2"/><polyline points="451.4,313.7 455.4,300.1 465.3,266.2"/><polyline points="475.4,300.1 484.1,266.2"/><polyline points="450.6,313.7 454.4,300.1 463.8,266.2"/><polyline points="455.3,327.3 471.8,266.2"/><polyline points="467.0,300.1 476.2,266.2"/><polyline points="463.5,334.0 469.0,313.7 481.9,266.2"/><polyline points="445.8,313.7 455.8,266.2"/><polyline points="463.6,334.0 472.7,266.2"/><polyline points="459.4,327.3 461.9,313.7 470.4,266.2"/><polyline points="459.5,327.3 471.0,266.2"/><polyline points="460.5,327.3 466.9,300.1 474.8,266.2"/><polyline points="471.9,313.7 478.1,266.2"/><polyline points="457.4,334.0 464.3,300.1 471.1,266.2"/><polyline points="469.0,300.1 473.3,266.2"/><polyline points="445.6,313.7 449.7,300.1 459.8,266.2"/><polyline points="474.8,300.1 479.1,266.2"/><polyline points="448.5,313.7 455.8,266.2"/><polyline points="455.9,300.1 463.2,266.2"/><polyline points="468.7,300.1 473.2,266.2"/><polyline points="469.5,300.1 475.0,266.2"/><polyline points="454.0,300.1 458.9,266.2"/><polyline points="468.1,300.1 475.0,266.2"/><polyline points="451.7,313.7 455.5,300.1 464.9,266.2"/><polyline points="465.1,313.7 467.7,300.1 474.1,266.2"/><polyline points="469.0,313.7 481.4,266.2"/><polyline points="456.5,300.1 466.8,266.2"/><polyline points="462.2,327.3 472.6,266.2"/><polyline points="466.6,313.7 477.0,266.2"/><polyline points="454.8,313.7 456.7,300.1 461.6,266.2"/><polyline points="451.8,313.7 457.6,266.2"/><polyline points="452.0,313.7 454.6,300.1 461.0,266.2"/><polyline points="461.7,334.0 469.8,266.2"/><polyline points="474.9,300.1 484.0,266.2"/><polyline points="458.1,327.3 472.2,266.2"/><polyline points="462.9,300.1 473.5,266.2"/><polyline points="454.2,313.7 458.4,300.1 468.9,266.2"/><polyline points="452.1,300.1 461.7,266.2"/><polyline points="457.4,313.7 468.3,266.2"/><polyline points="456.0,313.7 468.5,266.2"/><polyline points="470.8,313.7 482.5,266.2"/><polyline points="475.2,300.1 482.6,266.2"/><polyline points="457.3,313.7 459.4,300.1 464.5,266.2"/><polyline points="450.0,300.1 456.9,266.2"/><polyline points="467.8,300.1 474.8,266.2"/><polyline points="460.2,300.1 467.5,266.2"/><polyline points="445.8,313.7 449.8,300.1 459.8,266.2"/><polyline points="475.5,300.1 480.2,266.2"/><polyline points="463.0,313.7 465.6,300.1 471.9,266.2"/><polyline points="463.4,300.1 471.3,266.2"/><polyline points="458.2,313.7 459.8,300.1 464.0,266.2"/><polyline points="452.4,313.7 454.4,300.1 459.3,266.2"/><polyline points="461.1,334.0 471.5,300.1 481.8,266.2"/><polyline points="449.5,313.7 457.9,266.2"/><polyline points="465.1,313.7 476.0,266.2"/><polyline points="471.2,300.1 477.4,266.2"/><polyline points="456.0,327.3 460.0,313.7 474.1,266.2"/><polyline points="449.9,300.1 456.7,266.2"/><polyline points="444.9,313.7 449.9,300.1"/><polyline points="450.5,300.1 457.3,266.2"/><polyline points="445.5,313.7 450.5,300.1"/><polyline points="451.2,300.1 457.9,266.2"/><polyline points="446.1,313.7 451.2,300.1"/><polyline points="451.8,300.1 458.5,266.2"/><polyline points="446.7,313.7 451.8,300.1"/><polyline points="452.4,300.1 459.1,266.2"/><polyline points="447.3,313.7 452.4,300.1"/><polyline points="453.0,300.1 459.7,266.2"/><polyline points="448.0,313.7 453.0,300.1"/><polyline points="453.6,300.1 460.4,266.2"/><polyline points="448.6,313.7 453.6,300.1"/><polyline points="454.2,300.1 461.0,266.2"/><polyline points="449.2,313.7 454.2,300.1"/><polyline points="454.9,300.1 461.6,266.2"/><polyline points="449.8,313.7 454.9,300.1"/><polyline points="455.5,300.1 462.2,266.2"/><polyline points="450.4,313.7 455.5,300.1"/><polyline points="456.1,300.1 462.8,266.2"/><polyline points="451.0,313.7 456.1,300.1"/><polyline points="456.7,300.1 463.4,266.2"/><polyline points="451.7,313.7 456.7,300.1"/><polyline points="457.3,300.1 464.1,266.2"/><polyline points="452.3,313.7 457.3,300.1"/><polyline points="457.9,300.1 464.7,266.2"/><polyline points="452.9,313.7 457.9,300.1"/><polyline points="458.6,300.1 465.3,266.2"/><polyline points="453.5,313.7 458.6,300.1"/><polyline points="459.2,300.1 465.9,266.2"/><polyline points="454.1,313.7 459.2,300.1"/><polyline points="459.8,300.1 466.5,266.2"/><polyline points="454.7,313.7 459.8,300.1"/><polyline points="460.4,300.1 467.1,266.2"/><polyline points="455.4,313.7 460.4,300.1"/><polyline points="461.0,300.1 467.8,266.2"/><polyline points="456.0,313.7 461.0,300.1"/><polyline points="461.6,300.1 468.4,266.2"/><polyline points="456.6,313.7 461.6,300.1"/><polyline points="462.3,300.1 469.0,266.2"/><polyline points="457.2,313.7 462.3,300.1"/><polyline points="462.9,300.1 469.6,266.2"/><polyline points="457.8,313.7 462.9,300.1"/><polyline points="463.5,300.1 470.2,266.2"/><polyline points="458.4,313.7 463.5,300.1"/><polyline points="464.1,300.1 470.8,266.2"/><polyline points="459.1,313.7 464.1,300.1"/><polyline points="464.7,300.1 471.5,266.2"/><polyline points="459.7,313.7 464.7,300.1"/><polyline points="465.3,300.1 472.1,266.2"/><polyline points="460.3,313.7 465.3,300.1"/><polyline points="466.0,300.1 472.7,266.2"/><polyline points="460.9,313.7 466.0,300.1"/><polyline points="466.6,300.1 473.3,266.2"/><polyline points="461.5,313.7 466.6,300.1"/><polyline points="467.2,300.1 473.9,266.2"/><polyline points="462.1,313.7 467.2,300.1"/><polyline points="467.8,300.1 474.5,266.2"/><polyline points="462.8,313.7 467.8,300.1"/><polyline points="468.4,300.1 475.2,266.2"/><polyline points="463.4,313.7 468.4,300.1"/><polyline points="469.0,300.1 475.8,266.2"/><polyline points="464.0,313.7 469.0,300.1"/><polyline points="469.7,300.1 476.4,266.2"/><polyline points="464.6,313.7 469.7,300.1"/><polyline points="470.3,300.1 477.0,266.2"/><polyline points="465.2,313.7 470.3,300.1"/><polyline points="470.9,300.1 477.6,266.2"/><polyline points="465.9,313.7 470.9,300.1"/><polyline points="471.5,300.1 478.2,266.2"/><polyline points="466.5,313.7 471.5,300.1"/><polyline points="455.8,266.2 457.9,266.2 460.1,266.2 462.3,266.2 464.5,266.2 466.7,266.2 468.9,266.2 471.1,266.2 473.3,266.2 475.4,266.2 477.6,266.2 479.8,266.2 482.0,266.2 484.2,266.2 486.4,266.2"/><polyline points="449.4,300.1 451.6,300.1 453.8,300.1 456.1,300.1 458.3,300.1 460.6,300.1 462.8,300.1 465.1,300.1 467.3,300.1 469.6,300.1 471.8,300.1 474.0,300.1 476.3,300.1 478.5,300.1 480.8,300.1"/><polyline points="443.2,313.7 445.5,313.7 447.8,313.7 450.2,313.7 452.5,313.7 454.8,313.7 457.2,313.7 459.5,313.7 461.8,313.7 464.2,313.7 466.5,313.7 468.8,313.7 471.2,313.7 473.5,313.7"/><polyline points="445.4,334.0 447.7,334.0"/><polyline points="452.7,334.0 455.0,334.0 457.2,334.0 459.5,334.0 461.7,334.0 463.9,334.0"/><polyline points="494.2,266.2 480.2,300.1"/><polyline points="486.4,266.2 472.4,327.3"/><polyline points="486.4,266.2 480.8,300.1"/><polyline points="484.1,266.2 478.5,306.9 473.5,313.7"/><polyline points="444.9,368.3 456.1,330.6 458.9,313.7"/><polyline points="457.8,347.6 461.1,347.6"/><polyline points="457.8,347.6 459.5,334.0 461.7,313.7"/><polyline points="461.1,347.6 463.9,334.0 466.2,337.4"/><polyline points="466.2,337.4 469.0,313.7"/><polyline points="449.9,327.3 445.4,334.0"/><polyline points="449.9,327.3 452.7,313.7"/><polyline points="463.9,330.6 467.3,313.7"/></g>
<g fill="#00B0F6"><circle cx="443.2" cy="313.7" r="2.45"/><circle cx="443.9" cy="313.7" r="2.45"/><circle cx="444.9" cy="313.7" r="2.45"/><circle cx="444.9" cy="368.3" r="2.45"/><circle cx="445.3" cy="313.7" r="2.45"/><circle cx="445.4" cy="334.0" r="2.45"/><circle cx="445.5" cy="313.7" r="2.45"/><circle cx="445.6" cy="313.7" r="2.45"/><circle cx="445.7" cy="313.7" r="2.45"/><circle cx="445.8" cy="313.7" r="2.45"/><circle cx="446.1" cy="313.7" r="2.45"/><circle cx="446.7" cy="313.7" r="2.45"/><circle cx="446.7" cy="334.0" r="2.45"/><circle cx="446.9" cy="313.7" r="2.45"/><circle cx="447.3" cy="300.1" r="2.45"/><circle cx="447.3" cy="313.7" r="2.45"/><circle cx="447.7" cy="334.0" r="2.45"/><circle cx="447.8" cy="313.7" r="2.45"/><circle cx="448.0" cy="313.7" r="2.45"/><circle cx="448.5" cy="313.7" r="2.45"/><circle cx="448.6" cy="313.7" r="2.45"/><circle cx="449.2" cy="313.7" r="2.45"/><circle cx="449.3" cy="300.1" r="2.45"/><circle cx="449.4" cy="300.1" r="2.45"/><circle cx="449.5" cy="313.7" r="2.45"/><circle cx="449.7" cy="300.1" r="2.45"/><circle cx="449.7" cy="313.7" r="2.45"/><circle cx="449.8" cy="300.1" r="2.45"/><circle cx="449.8" cy="313.7" r="2.45"/><circle cx="449.8" cy="334.0" r="2.45"/><circle cx="449.9" cy="300.1" r="2.45"/><circle cx="449.9" cy="327.3" r="2.45"/><circle cx="450.0" cy="300.1" r="2.45"/><circle cx="450.1" cy="300.1" r="2.45"/><circle cx="450.2" cy="313.7" r="2.45"/><circle cx="450.4" cy="313.7" r="2.45"/><circle cx="450.5" cy="300.1" r="2.45"/><circle cx="450.6" cy="313.7" r="2.45"/><circle cx="451.0" cy="313.7" r="2.45"/><circle cx="451.2" cy="300.1" r="2.45"/><circle cx="451.2" cy="313.7" r="2.45"/><circle cx="451.4" cy="313.7" r="2.45"/><circle cx="451.5" cy="313.7" r="2.45"/><circle cx="451.6" cy="300.1" r="2.45"/><circle cx="451.7" cy="300.1" r="2.45"/><circle cx="451.7" cy="313.7" r="2.45"/><circle cx="451.8" cy="300.1" r="2.45"/><circle cx="451.8" cy="313.7" r="2.45"/><circle cx="451.9" cy="327.3" r="2.45"/><circle cx="452.0" cy="300.1" r="2.45"/><circle cx="452.0" cy="313.7" r="2.45"/><circle cx="452.1" cy="300.1" r="2.45"/><circle cx="452.3" cy="313.7" r="2.45"/><circle cx="452.4" cy="300.1" r="2.45"/><circle cx="452.4" cy="313.7" r="2.45"/><circle cx="452.5" cy="313.7" r="2.45"/><circle cx="452.7" cy="313.7" r="2.45"/><circle cx="452.7" cy="334.0" r="2.45"/><circle cx="452.9" cy="313.7" r="2.45"/><circle cx="453.0" cy="300.1" r="2.45"/><circle cx="453.0" cy="327.3" r="2.45"/><circle cx="453.4" cy="300.1" r="2.45"/><circle cx="453.5" cy="313.7" r="2.45"/><circle cx="453.6" cy="300.1" r="2.45"/><circle cx="453.6" cy="313.7" r="2.45"/><circle cx="453.8" cy="300.1" r="2.45"/><circle cx="453.9" cy="300.1" r="2.45"/><circle cx="453.9" cy="313.7" r="2.45"/><circle cx="453.9" cy="327.3" r="2.45"/><circle cx="454.0" cy="300.1" r="2.45"/><circle cx="454.1" cy="313.7" r="2.45"/><circle cx="454.2" cy="300.1" r="2.45"/><circle cx="454.2" cy="313.7" r="2.45"/><circle cx="454.4" cy="300.1" r="2.45"/><circle cx="454.6" cy="300.1" r="2.45"/><circle cx="454.7" cy="300.1" r="2.45"/><circle cx="454.7" cy="313.7" r="2.45"/><circle cx="454.8" cy="313.7" r="2.45"/><circle cx="454.9" cy="300.1" r="2.45"/><circle cx="455.0" cy="334.0" r="2.45"/><circle cx="455.3" cy="327.3" r="2.45"/><circle cx="455.4" cy="300.1" r="2.45"/><circle cx="455.4" cy="313.7" r="2.45"/><circle cx="455.5" cy="300.1" r="2.45"/><circle cx="455.7" cy="300.1" r="2.45"/><circle cx="455.8" cy="266.2" r="2.45"/><circle cx="455.8" cy="300.1" r="2.45"/><circle cx="455.9" cy="300.1" r="2.45"/><circle cx="456.0" cy="313.7" r="2.45"/><circle cx="456.0" cy="327.3" r="2.45"/><circle cx="456.1" cy="300.1" r="2.45"/><circle cx="456.1" cy="330.6" r="2.45"/><circle cx="456.3" cy="266.2" r="2.45"/><circle cx="456.5" cy="300.1" r="2.45"/><circle cx="456.6" cy="266.2" r="2.45"/><circle cx="456.6" cy="313.7" r="2.45"/><circle cx="456.7" cy="266.2" r="2.45"/><circle cx="456.7" cy="300.1" r="2.45"/><circle cx="456.9" cy="266.2" r="2.45"/><circle cx="456.9" cy="313.7" r="2.45"/><circle cx="457.2" cy="300.1" r="2.45"/><circle cx="457.2" cy="313.7" r="2.45"/><circle cx="457.2" cy="334.0" r="2.45"/><circle cx="457.3" cy="266.2" r="2.45"/><circle cx="457.3" cy="300.1" r="2.45"/><circle cx="457.3" cy="313.7" r="2.45"/><circle cx="457.3" cy="327.3" r="2.45"/><circle cx="457.4" cy="313.7" r="2.45"/><circle cx="457.4" cy="334.0" r="2.45"/><circle cx="457.5" cy="266.2" r="2.45"/><circle cx="457.6" cy="266.2" r="2.45"/><circle cx="457.6" cy="300.1" r="2.45"/><circle cx="457.8" cy="300.1" r="2.45"/><circle cx="457.8" cy="313.7" r="2.45"/><circle cx="457.8" cy="347.6" r="2.45"/><circle cx="457.9" cy="266.2" r="2.45"/><circle cx="457.9" cy="300.1" r="2.45"/><circle cx="457.9" cy="313.7" r="2.45"/><circle cx="458.1" cy="266.2" r="2.45"/><circle cx="458.1" cy="327.3" r="2.45"/><circle cx="458.2" cy="313.7" r="2.45"/><circle cx="458.3" cy="300.1" r="2.45"/><circle cx="458.4" cy="300.1" r="2.45"/><circle cx="458.4" cy="313.7" r="2.45"/><circle cx="458.5" cy="266.2" r="2.45"/><circle cx="458.6" cy="300.1" r="2.45"/><circle cx="458.7" cy="327.3" r="2.45"/><circle cx="458.8" cy="266.2" r="2.45"/><circle cx="458.9" cy="266.2" r="2.45"/><circle cx="458.9" cy="313.7" r="2.45"/><circle cx="459.1" cy="266.2" r="2.45"/><circle cx="459.1" cy="300.1" r="2.45"/><circle cx="459.1" cy="313.7" r="2.45"/><circle cx="459.2" cy="300.1" r="2.45"/><circle cx="459.3" cy="266.2" r="2.45"/><circle cx="459.4" cy="300.1" r="2.45"/><circle cx="459.4" cy="327.3" r="2.45"/><circle cx="459.5" cy="313.7" r="2.45"/><circle cx="459.5" cy="327.3" r="2.45"/><circle cx="459.5" cy="334.0" r="2.45"/><circle cx="459.7" cy="266.2" r="2.45"/><circle cx="459.7" cy="313.7" r="2.45"/><circle cx="459.8" cy="266.2" r="2.45"/><circle cx="459.8" cy="300.1" r="2.45"/><circle cx="459.9" cy="327.3" r="2.45"/><circle cx="460.0" cy="300.1" r="2.45"/><circle cx="460.0" cy="313.7" r="2.45"/><circle cx="460.1" cy="266.2" r="2.45"/><circle cx="460.2" cy="300.1" r="2.45"/><circle cx="460.3" cy="300.1" r="2.45"/><circle cx="460.3" cy="313.7" r="2.45"/><circle cx="460.4" cy="266.2" r="2.45"/><circle cx="460.4" cy="300.1" r="2.45"/><circle cx="460.5" cy="327.3" r="2.45"/><circle cx="460.6" cy="300.1" r="2.45"/><circle cx="460.7" cy="266.2" r="2.45"/><circle cx="460.7" cy="327.3" r="2.45"/><circle cx="460.8" cy="266.2" r="2.45"/><circle cx="460.9" cy="266.2" r="2.45"/><circle cx="460.9" cy="300.1" r="2.45"/><circle cx="460.9" cy="313.7" r="2.45"/><circle cx="461.0" cy="266.2" r="2.45"/><circle cx="461.0" cy="300.1" r="2.45"/><circle cx="461.1" cy="334.0" r="2.45"/><circle cx="461.1" cy="347.6" r="2.45"/><circle cx="461.5" cy="313.7" r="2.45"/><circle cx="461.6" cy="266.2" r="2.45"/><circle cx="461.6" cy="300.1" r="2.45"/><circle cx="461.7" cy="266.2" r="2.45"/><circle cx="461.7" cy="313.7" r="2.45"/><circle cx="461.7" cy="334.0" r="2.45"/><circle cx="461.8" cy="313.7" r="2.45"/><circle cx="461.9" cy="313.7" r="2.45"/><circle cx="462.1" cy="313.7" r="2.45"/><circle cx="462.2" cy="266.2" r="2.45"/><circle cx="462.2" cy="327.3" r="2.45"/><circle cx="462.3" cy="266.2" r="2.45"/><circle cx="462.3" cy="300.1" r="2.45"/><circle cx="462.8" cy="266.2" r="2.45"/><circle cx="462.8" cy="300.1" r="2.45"/><circle cx="462.8" cy="313.7" r="2.45"/><circle cx="462.9" cy="266.2" r="2.45"/><circle cx="462.9" cy="300.1" r="2.45"/><circle cx="463.0" cy="313.7" r="2.45"/><circle cx="463.2" cy="266.2" r="2.45"/><circle cx="463.3" cy="266.2" r="2.45"/><circle cx="463.4" cy="266.2" r="2.45"/><circle cx="463.4" cy="300.1" r="2.45"/><circle cx="463.4" cy="313.7" r="2.45"/><circle cx="463.5" cy="300.1" r="2.45"/><circle cx="463.5" cy="334.0" r="2.45"/><circle cx="463.6" cy="334.0" r="2.45"/><circle cx="463.8" cy="266.2" r="2.45"/><circle cx="463.8" cy="300.1" r="2.45"/><circle cx="463.9" cy="330.6" r="2.45"/><circle cx="463.9" cy="334.0" r="2.45"/><circle cx="464.0" cy="266.2" r="2.45"/><circle cx="464.0" cy="313.7" r="2.45"/><circle cx="464.1" cy="266.2" r="2.45"/><circle cx="464.1" cy="300.1" r="2.45"/><circle cx="464.2" cy="313.7" r="2.45"/><circle cx="464.3" cy="300.1" r="2.45"/><circle cx="464.5" cy="266.2" r="2.45"/><circle cx="464.6" cy="313.7" r="2.45"/><circle cx="464.7" cy="266.2" r="2.45"/><circle cx="464.7" cy="300.1" r="2.45"/><circle cx="464.9" cy="266.2" r="2.45"/><circle cx="465.1" cy="266.2" r="2.45"/><circle cx="465.1" cy="300.1" r="2.45"/><circle cx="465.1" cy="313.7" r="2.45"/><circle cx="465.2" cy="266.2" r="2.45"/><circle cx="465.2" cy="300.1" r="2.45"/><circle cx="465.2" cy="313.7" r="2.45"/><circle cx="465.3" cy="266.2" r="2.45"/><circle cx="465.3" cy="300.1" r="2.45"/><circle cx="465.3" cy="313.7" r="2.45"/><circle cx="465.4" cy="266.2" r="2.45"/><circle cx="465.5" cy="266.2" r="2.45"/><circle cx="465.6" cy="300.1" r="2.45"/><circle cx="465.7" cy="300.1" r="2.45"/><circle cx="465.9" cy="266.2" r="2.45"/><circle cx="465.9" cy="313.7" r="2.45"/><circle cx="466.0" cy="300.1" r="2.45"/><circle cx="466.2" cy="337.4" r="2.45"/><circle cx="466.3" cy="300.1" r="2.45"/><circle cx="466.4" cy="266.2" r="2.45"/><circle cx="466.5" cy="266.2" r="2.45"/><circle cx="466.5" cy="313.7" r="2.45"/><circle cx="466.6" cy="300.1" r="2.45"/><circle cx="466.6" cy="313.7" r="2.45"/><circle cx="466.7" cy="266.2" r="2.45"/><circle cx="466.8" cy="266.2" r="2.45"/><circle cx="466.9" cy="300.1" r="2.45"/><circle cx="467.0" cy="266.2" r="2.45"/><circle cx="467.0" cy="300.1" r="2.45"/><circle cx="467.1" cy="266.2" r="2.45"/><circle cx="467.2" cy="300.1" r="2.45"/><circle cx="467.3" cy="266.2" r="2.45"/><circle cx="467.3" cy="300.1" r="2.45"/><circle cx="467.3" cy="313.7" r="2.45"/><circle cx="467.5" cy="266.2" r="2.45"/><circle cx="467.6" cy="266.2" r="2.45"/><circle cx="467.7" cy="300.1" r="2.45"/><circle cx="467.8" cy="266.2" r="2.45"/><circle cx="467.8" cy="300.1" r="2.45"/><circle cx="468.0" cy="300.1" r="2.45"/><circle cx="468.1" cy="300.1" r="2.45"/><circle cx="468.2" cy="266.2" r="2.45"/><circle cx="468.3" cy="266.2" r="2.45"/><circle cx="468.4" cy="266.2" r="2.45"/><circle cx="468.4" cy="300.1" r="2.45"/><circle cx="468.5" cy="266.2" r="2.45"/><circle cx="468.6" cy="300.1" r="2.45"/><circle cx="468.7" cy="300.1" r="2.45"/><circle cx="468.8" cy="313.7" r="2.45"/><circle cx="468.9" cy="266.2" r="2.45"/><circle cx="468.9" cy="300.1" r="2.45"/><circle cx="469.0" cy="266.2" r="2.45"/><circle cx="469.0" cy="300.1" r="2.45"/><circle cx="469.0" cy="313.7" r="2.45"/><circle cx="469.4" cy="313.7" r="2.45"/><circle cx="469.5" cy="300.1" r="2.45"/><circle cx="469.6" cy="266.2" r="2.45"/><circle cx="469.6" cy="300.1" r="2.45"/><circle cx="469.7" cy="300.1" r="2.45"/><circle cx="469.8" cy="266.2" r="2.45"/><circle cx="470.0" cy="313.7" r="2.45"/><circle cx="470.2" cy="266.2" r="2.45"/><circle cx="470.2" cy="313.7" r="2.45"/><circle cx="470.3" cy="266.2" r="2.45"/><circle cx="470.3" cy="300.1" r="2.45"/><circle cx="470.4" cy="266.2" r="2.45"/><circle cx="470.7" cy="266.2" r="2.45"/><circle cx="470.8" cy="266.2" r="2.45"/><circle cx="470.8" cy="313.7" r="2.45"/><circle cx="470.9" cy="300.1" r="2.45"/><circle cx="471.0" cy="266.2" r="2.45"/><circle cx="471.1" cy="266.2" r="2.45"/><circle cx="471.2" cy="300.1" r="2.45"/><circle cx="471.2" cy="313.7" r="2.45"/><circle cx="471.3" cy="266.2" r="2.45"/><circle cx="471.4" cy="313.7" r="2.45"/><circle cx="471.5" cy="266.2" r="2.45"/><circle cx="471.5" cy="300.1" r="2.45"/><circle cx="471.7" cy="266.2" r="2.45"/><circle cx="471.7" cy="300.1" r="2.45"/><circle cx="471.8" cy="266.2" r="2.45"/><circle cx="471.8" cy="300.1" r="2.45"/><circle cx="471.9" cy="266.2" r="2.45"/><circle cx="471.9" cy="313.7" r="2.45"/><circle cx="472.1" cy="266.2" r="2.45"/><circle cx="472.2" cy="266.2" r="2.45"/><circle cx="472.2" cy="313.7" r="2.45"/><circle cx="472.3" cy="313.7" r="2.45"/><circle cx="472.4" cy="327.3" r="2.45"/><circle cx="472.6" cy="266.2" r="2.45"/><circle cx="472.7" cy="266.2" r="2.45"/><circle cx="472.9" cy="266.2" r="2.45"/><circle cx="473.1" cy="300.1" r="2.45"/><circle cx="473.2" cy="266.2" r="2.45"/><circle cx="473.3" cy="266.2" r="2.45"/><circle cx="473.5" cy="266.2" r="2.45"/><circle cx="473.5" cy="313.7" r="2.45"/><circle cx="473.7" cy="266.2" r="2.45"/><circle cx="473.9" cy="266.2" r="2.45"/><circle cx="474.0" cy="300.1" r="2.45"/><circle cx="474.1" cy="266.2" r="2.45"/><circle cx="474.1" cy="300.1" r="2.45"/><circle cx="474.5" cy="266.2" r="2.45"/><circle cx="474.8" cy="266.2" r="2.45"/><circle cx="474.8" cy="300.1" r="2.45"/><circle cx="474.9" cy="300.1" r="2.45"/><circle cx="475.0" cy="266.2" r="2.45"/><circle cx="475.1" cy="300.1" r="2.45"/><circle cx="475.2" cy="266.2" r="2.45"/><circle cx="475.2" cy="300.1" r="2.45"/><circle cx="475.3" cy="266.2" r="2.45"/><circle cx="475.3" cy="300.1" r="2.45"/><circle cx="475.4" cy="266.2" r="2.45"/><circle cx="475.4" cy="300.1" r="2.45"/><circle cx="475.5" cy="300.1" r="2.45"/><circle cx="475.8" cy="266.2" r="2.45"/><circle cx="476.0" cy="266.2" r="2.45"/><circle cx="476.2" cy="266.2" r="2.45"/><circle cx="476.3" cy="300.1" r="2.45"/><circle cx="476.4" cy="266.2" r="2.45"/><circle cx="476.9" cy="266.2" r="2.45"/><circle cx="477.0" cy="266.2" r="2.45"/><circle cx="477.4" cy="266.2" r="2.45"/><circle cx="477.6" cy="266.2" r="2.45"/><circle cx="478.1" cy="266.2" r="2.45"/><circle cx="478.2" cy="266.2" r="2.45"/><circle cx="478.3" cy="266.2" r="2.45"/><circle cx="478.4" cy="266.2" r="2.45"/><circle cx="478.5" cy="300.1" r="2.45"/><circle cx="478.5" cy="306.9" r="2.45"/><circle cx="479.1" cy="266.2" r="2.45"/><circle cx="479.6" cy="266.2" r="2.45"/><circle cx="479.8" cy="266.2" r="2.45"/><circle cx="480.0" cy="266.2" r="2.45"/><circle cx="480.2" cy="266.2" r="2.45"/><circle cx="480.2" cy="300.1" r="2.45"/><circle cx="480.8" cy="300.1" r="2.45"/><circle cx="481.0" cy="266.2" r="2.45"/><circle cx="481.4" cy="266.2" r="2.45"/><circle cx="481.8" cy="266.2" r="2.45"/><circle cx="481.9" cy="266.2" r="2.45"/><circle cx="482.0" cy="266.2" r="2.45"/><circle cx="482.4" cy="266.2" r="2.45"/><circle cx="482.5" cy="266.2" r="2.45"/><circle cx="482.6" cy="266.2" r="2.45"/><circle cx="482.7" cy="266.2" r="2.45"/><circle cx="484.0" cy="266.2" r="2.45"/><circle cx="484.1" cy="266.2" r="2.45"/><circle cx="484.2" cy="266.2" r="2.45"/><circle cx="486.4" cy="266.2" r="2.45"/><circle cx="494.2" cy="266.2" r="2.45"/></g>
</g>
<text x="545.60" y="382" font-size="11.4" text-anchor="end" fill="#111">PBK: n = 77 / 101</text>
<rect x="428.20" y="258.1" width="123.3" height="128.70" fill="none" stroke="#333" stroke-width="0.8"/>
<line x1="433.65" x2="433.65" y1="386.8" y2="389.8" stroke="#333" stroke-width="1"/>
<text x="433.65" y="400.90" font-size="10.4" text-anchor="middle" fill="#111">0</text>
<line x1="456.09" x2="456.09" y1="386.8" y2="389.8" stroke="#333" stroke-width="1"/>
<text x="456.09" y="400.90" font-size="10.4" text-anchor="middle" fill="#111">4</text>
<line x1="478.53" x2="478.53" y1="386.8" y2="389.8" stroke="#333" stroke-width="1"/>
<text x="478.53" y="400.90" font-size="10.4" text-anchor="middle" fill="#111">8</text>
<line x1="500.97" x2="500.97" y1="386.8" y2="389.8" stroke="#333" stroke-width="1"/>
<text x="500.97" y="400.90" font-size="10.4" text-anchor="middle" fill="#111">12</text>
<line x1="523.41" x2="523.41" y1="386.8" y2="389.8" stroke="#333" stroke-width="1"/>
<text x="523.41" y="400.90" font-size="10.4" text-anchor="middle" fill="#111">16</text>
<line x1="545.85" x2="545.85" y1="386.8" y2="389.8" stroke="#333" stroke-width="1"/>
<text x="545.85" y="400.90" font-size="10.4" text-anchor="middle" fill="#111">20</text>
<rect x="558.60" y="237.4" width="123.3" height="20.70" fill="#dcdcdc" stroke="#333" stroke-width="0.8"/>
<text x="620.25" y="251.35" font-size="10.7" font-weight="bold" text-anchor="middle" fill="#1a1a1a">Older Simultaneous</text>
<g clip-path="url(#cb4)">
<line x1="558.60" x2="681.90" y1="271.00" y2="271.00" stroke="#555" stroke-width="1.7" stroke-dasharray="4.4 4.75"/>
<line x1="608.93" x2="608.93" y1="386.8" y2="258.1" stroke="#333" stroke-width="1" stroke-dasharray="1 3.55"/>
<g fill="none" stroke="#9590FF" stroke-width="1.2" stroke-linejoin="round"><polyline points="590.4,300.1 594.2,266.2"/><polyline points="593.2,300.1 594.2,266.2"/><polyline points="590.4,300.1 596.0,266.2"/><polyline points="593.2,300.1 596.0,266.2"/><polyline points="596.0,300.1 599.8,266.2"/><polyline points="594.2,266.2 599.8,266.2"/><polyline points="590.4,300.1 596.0,300.1"/><polyline points="601.6,300.1 604.8,266.2"/><polyline points="604.4,300.1 608.2,266.2"/><polyline points="601.6,300.1 608.2,266.2"/><polyline points="604.8,266.2 608.2,266.2"/><polyline points="601.6,300.1 604.4,300.1"/><polyline points="602.8,300.1 622.4,266.2"/><polyline points="612.3,300.1 620.2,266.2"/><polyline points="620.2,266.2 622.4,266.2"/><polyline points="598.3,303.5 595.5,330.6"/><polyline points="596.0,300.1 598.3,303.5"/><polyline points="598.3,337.4 610.4,313.7 614.5,313.7 620.7,300.1"/><polyline points="628.0,330.6 630.2,330.6 635.9,327.3"/><polyline points="635.9,334.0 644.8,300.1 653.2,269.6 657.2,266.2"/><polyline points="642.0,300.1 644.8,300.1"/><polyline points="644.8,300.1 657.2,266.2"/><polyline points="650.4,300.1 650.4,300.1"/><polyline points="649.3,334.0 653.2,334.0 656.6,313.7"/></g>
<g fill="#9590FF"><circle cx="590.4" cy="300.1" r="2.45"/><circle cx="593.2" cy="300.1" r="2.45"/><circle cx="594.2" cy="266.2" r="2.45"/><circle cx="595.5" cy="330.6" r="2.45"/><circle cx="596.0" cy="266.2" r="2.45"/><circle cx="596.0" cy="300.1" r="2.45"/><circle cx="598.3" cy="303.5" r="2.45"/><circle cx="598.3" cy="337.4" r="2.45"/><circle cx="599.8" cy="266.2" r="2.45"/><circle cx="601.6" cy="300.1" r="2.45"/><circle cx="602.8" cy="300.1" r="2.45"/><circle cx="604.4" cy="300.1" r="2.45"/><circle cx="604.8" cy="266.2" r="2.45"/><circle cx="608.2" cy="266.2" r="2.45"/><circle cx="610.4" cy="313.7" r="2.45"/><circle cx="612.3" cy="300.1" r="2.45"/><circle cx="614.5" cy="313.7" r="2.45"/><circle cx="620.2" cy="266.2" r="2.45"/><circle cx="620.7" cy="300.1" r="2.45"/><circle cx="622.4" cy="266.2" r="2.45"/><circle cx="628.0" cy="330.6" r="2.45"/><circle cx="630.2" cy="330.6" r="2.45"/><circle cx="635.9" cy="327.3" r="2.45"/><circle cx="635.9" cy="334.0" r="2.45"/><circle cx="642.0" cy="300.1" r="2.45"/><circle cx="644.8" cy="300.1" r="2.45"/><circle cx="649.3" cy="334.0" r="2.45"/><circle cx="650.4" cy="300.1" r="2.45"/><circle cx="653.2" cy="269.6" r="2.45"/><circle cx="653.2" cy="334.0" r="2.45"/><circle cx="656.6" cy="313.7" r="2.45"/><circle cx="657.2" cy="266.2" r="2.45"/></g>
</g>
<text x="676.00" y="382" font-size="11.4" text-anchor="end" fill="#111">PBK: n = 10 / 17</text>
<rect x="558.60" y="258.1" width="123.3" height="128.70" fill="none" stroke="#333" stroke-width="0.8"/>
<line x1="564.05" x2="564.05" y1="386.8" y2="389.8" stroke="#333" stroke-width="1"/>
<text x="564.05" y="400.90" font-size="10.4" text-anchor="middle" fill="#111">0</text>
<line x1="586.49" x2="586.49" y1="386.8" y2="389.8" stroke="#333" stroke-width="1"/>
<text x="586.49" y="400.90" font-size="10.4" text-anchor="middle" fill="#111">4</text>
<line x1="608.93" x2="608.93" y1="386.8" y2="389.8" stroke="#333" stroke-width="1"/>
<text x="608.93" y="400.90" font-size="10.4" text-anchor="middle" fill="#111">8</text>
<line x1="631.37" x2="631.37" y1="386.8" y2="389.8" stroke="#333" stroke-width="1"/>
<text x="631.37" y="400.90" font-size="10.4" text-anchor="middle" fill="#111">12</text>
<line x1="653.81" x2="653.81" y1="386.8" y2="389.8" stroke="#333" stroke-width="1"/>
<text x="653.81" y="400.90" font-size="10.4" text-anchor="middle" fill="#111">16</text>
<line x1="676.25" x2="676.25" y1="386.8" y2="389.8" stroke="#333" stroke-width="1"/>
<text x="676.25" y="400.90" font-size="10.4" text-anchor="middle" fill="#111">20</text>
<line x1="34.00" x2="37.00" y1="381.50" y2="381.50" stroke="#333" stroke-width="1"/>
<text x="30.70" y="386.20" font-size="10.3" text-anchor="end" fill="#111">0</text>
<line x1="34.00" x2="37.00" y1="367.94" y2="367.94" stroke="#333" stroke-width="1"/>
<text x="30.70" y="372.64" font-size="10.3" text-anchor="end" fill="#111">4</text>
<line x1="34.00" x2="37.00" y1="354.38" y2="354.38" stroke="#333" stroke-width="1"/>
<text x="30.70" y="359.08" font-size="10.3" text-anchor="end" fill="#111">8</text>
<line x1="34.00" x2="37.00" y1="340.82" y2="340.82" stroke="#333" stroke-width="1"/>
<text x="30.70" y="345.52" font-size="10.3" text-anchor="end" fill="#111">12</text>
<line x1="34.00" x2="37.00" y1="327.26" y2="327.26" stroke="#333" stroke-width="1"/>
<text x="30.70" y="331.96" font-size="10.3" text-anchor="end" fill="#111">16</text>
<line x1="34.00" x2="37.00" y1="313.70" y2="313.70" stroke="#333" stroke-width="1"/>
<text x="30.70" y="318.40" font-size="10.3" text-anchor="end" fill="#111">20</text>
<line x1="34.00" x2="37.00" y1="300.14" y2="300.14" stroke="#333" stroke-width="1"/>
<text x="30.70" y="304.84" font-size="10.3" text-anchor="end" fill="#111">24</text>
<line x1="34.00" x2="37.00" y1="286.58" y2="286.58" stroke="#333" stroke-width="1"/>
<text x="30.70" y="291.28" font-size="10.3" text-anchor="end" fill="#111">28</text>
<line x1="34.00" x2="37.00" y1="273.02" y2="273.02" stroke="#333" stroke-width="1"/>
<text x="30.70" y="277.72" font-size="10.3" text-anchor="end" fill="#111">32</text>
<text transform="translate(11.9,322.5) rotate(-90)" font-size="13.3" text-anchor="middle" fill="#000">PROSPER score</text>
<text x="359.4" y="418.2" font-size="13.45" text-anchor="middle" fill="#000">Age at test (years)</text>
</svg>
</body></html>
